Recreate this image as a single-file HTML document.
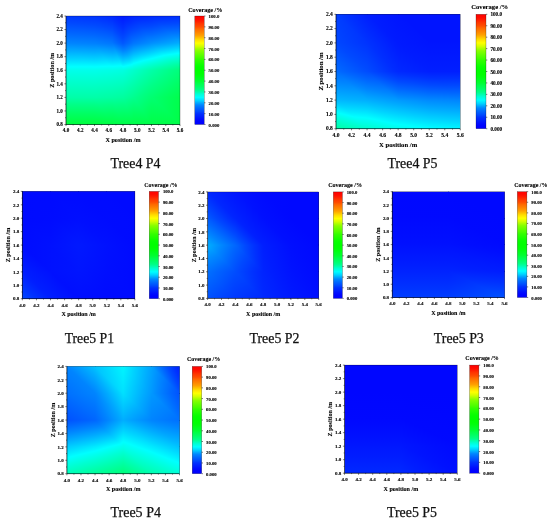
<!DOCTYPE html>
<html><head><meta charset="utf-8"><title>Coverage maps</title>
<style>
html,body{margin:0;padding:0;background:#fff}
svg{display:block}
text{font-family:"Liberation Serif","DejaVu Serif",serif;fill:#000}
.t text{font-weight:bold;stroke:#000;stroke-width:0.12px}
.u text{font-weight:bold;stroke:#000;stroke-width:0.12px}
.l{font-weight:bold;stroke:#000;stroke-width:0.1px}
.c{font-size:14.1px;fill:#111;stroke:#111;stroke-width:0.25px}
</style></head><body>
<svg width="550" height="522" viewBox="0 0 550 522">
<defs>
<clipPath id="ka"><rect x="66" y="16" width="114" height="108.5"/></clipPath>
<linearGradient id="a0" gradientUnits="userSpaceOnUse" x1="66.27" y1="12.6" x2="63.98" y2="41.94"><stop offset="0" stop-color="#0030ff"/><stop offset="0.01" stop-color="#0031ff"/><stop offset="0.349" stop-color="#0049ff"/><stop offset="0.687" stop-color="#0066ff"/><stop offset="1" stop-color="#0084ff"/></linearGradient>
<linearGradient id="a1" gradientUnits="userSpaceOnUse" x1="66.07" y1="14.77" x2="64.47" y2="44.27"><stop offset="0" stop-color="#0035ff"/><stop offset="0.28" stop-color="#0049ff"/><stop offset="0.627" stop-color="#0066ff"/><stop offset="0.974" stop-color="#0086ff"/><stop offset="1" stop-color="#0089ff"/></linearGradient>
<linearGradient id="a2" gradientUnits="userSpaceOnUse" x1="95.83" y1="10.72" x2="88.87" y2="38.35"><stop offset="0" stop-color="#0026ff"/><stop offset="0.162" stop-color="#0031ff"/><stop offset="0.483" stop-color="#0049ff"/><stop offset="0.803" stop-color="#0066ff"/><stop offset="1" stop-color="#0079ff"/></linearGradient>
<linearGradient id="a3" gradientUnits="userSpaceOnUse" x1="94.7" y1="14.84" x2="89.75" y2="43.5"><stop offset="0" stop-color="#0030ff"/><stop offset="0.01" stop-color="#0031ff"/><stop offset="0.349" stop-color="#0049ff"/><stop offset="0.687" stop-color="#0066ff"/><stop offset="1" stop-color="#0084ff"/></linearGradient>
<linearGradient id="a4" gradientUnits="userSpaceOnUse" x1="116.92" y1="10.07" x2="102.61" y2="28.47"><stop offset="0" stop-color="#0018ff"/><stop offset="0.114" stop-color="#001dff"/><stop offset="0.453" stop-color="#0031ff"/><stop offset="0.793" stop-color="#0049ff"/><stop offset="1" stop-color="#005aff"/></linearGradient>
<linearGradient id="a5" gradientUnits="userSpaceOnUse" x1="112.87" y1="15.37" x2="98.29" y2="31.86"><stop offset="0" stop-color="#0026ff"/><stop offset="0.162" stop-color="#0031ff"/><stop offset="0.483" stop-color="#0049ff"/><stop offset="0.803" stop-color="#0066ff"/><stop offset="1" stop-color="#0079ff"/></linearGradient>
<linearGradient id="a6" gradientUnits="userSpaceOnUse" x1="122.61" y1="15.15" x2="135.6" y2="43.28"><stop offset="0" stop-color="#0018ff"/><stop offset="0.085" stop-color="#001dff"/><stop offset="0.338" stop-color="#0031ff"/><stop offset="0.591" stop-color="#0049ff"/><stop offset="0.844" stop-color="#0066ff"/><stop offset="1" stop-color="#0079ff"/></linearGradient>
<linearGradient id="a7" gradientUnits="userSpaceOnUse" x1="122.4" y1="15.36" x2="142.15" y2="36.36"><stop offset="0" stop-color="#0018ff"/><stop offset="0.085" stop-color="#001dff"/><stop offset="0.338" stop-color="#0031ff"/><stop offset="0.591" stop-color="#0049ff"/><stop offset="0.844" stop-color="#0066ff"/><stop offset="1" stop-color="#0079ff"/></linearGradient>
<linearGradient id="a8" gradientUnits="userSpaceOnUse" x1="133.59" y1="15.11" x2="136.89" y2="45.6"><stop offset="0" stop-color="#0021ff"/><stop offset="0.185" stop-color="#0031ff"/><stop offset="0.427" stop-color="#0049ff"/><stop offset="0.669" stop-color="#0066ff"/><stop offset="0.911" stop-color="#0086ff"/><stop offset="1" stop-color="#0093ff"/></linearGradient>
<linearGradient id="a9" gradientUnits="userSpaceOnUse" x1="133.35" y1="15.08" x2="144.81" y2="46.59"><stop offset="0" stop-color="#0021ff"/><stop offset="0.185" stop-color="#0031ff"/><stop offset="0.427" stop-color="#0049ff"/><stop offset="0.669" stop-color="#0066ff"/><stop offset="0.911" stop-color="#0086ff"/><stop offset="1" stop-color="#0093ff"/></linearGradient>
<linearGradient id="a10" gradientUnits="userSpaceOnUse" x1="151.46" y1="15.23" x2="153.12" y2="45.38"><stop offset="0" stop-color="#0026ff"/><stop offset="0.108" stop-color="#0031ff"/><stop offset="0.321" stop-color="#0049ff"/><stop offset="0.534" stop-color="#0066ff"/><stop offset="0.746" stop-color="#0086ff"/><stop offset="0.959" stop-color="#00abff"/><stop offset="1" stop-color="#00b2ff"/></linearGradient>
<linearGradient id="a11" gradientUnits="userSpaceOnUse" x1="151.31" y1="15.14" x2="158.56" y2="48.66"><stop offset="0" stop-color="#0026ff"/><stop offset="0.108" stop-color="#0031ff"/><stop offset="0.321" stop-color="#0049ff"/><stop offset="0.534" stop-color="#0066ff"/><stop offset="0.746" stop-color="#0086ff"/><stop offset="0.959" stop-color="#00abff"/><stop offset="1" stop-color="#00b2ff"/></linearGradient>
<linearGradient id="a12" gradientUnits="userSpaceOnUse" x1="66.08" y1="41.12" x2="64.95" y2="69.99"><stop offset="0" stop-color="#007bff"/><stop offset="0.081" stop-color="#0086ff"/><stop offset="0.338" stop-color="#00abff"/><stop offset="0.596" stop-color="#00d3ff"/><stop offset="0.853" stop-color="#00ffff"/><stop offset="1" stop-color="#00ffe5"/></linearGradient>
<linearGradient id="a13" gradientUnits="userSpaceOnUse" x1="66" y1="42.19" x2="66" y2="71.18"><stop offset="0" stop-color="#0081ff"/><stop offset="0.044" stop-color="#0086ff"/><stop offset="0.312" stop-color="#00abff"/><stop offset="0.579" stop-color="#00d3ff"/><stop offset="0.847" stop-color="#00ffff"/><stop offset="1" stop-color="#00ffe5"/></linearGradient>
<linearGradient id="a14" gradientUnits="userSpaceOnUse" x1="94.82" y1="40.31" x2="91.56" y2="68.66"><stop offset="0" stop-color="#0071ff"/><stop offset="0.145" stop-color="#0086ff"/><stop offset="0.377" stop-color="#00abff"/><stop offset="0.608" stop-color="#00d3ff"/><stop offset="0.84" stop-color="#00ffff"/><stop offset="1" stop-color="#00ffe0"/></linearGradient>
<linearGradient id="a15" gradientUnits="userSpaceOnUse" x1="94.46" y1="42.23" x2="95.89" y2="71.94"><stop offset="0" stop-color="#007bff"/><stop offset="0.079" stop-color="#0086ff"/><stop offset="0.329" stop-color="#00abff"/><stop offset="0.578" stop-color="#00d3ff"/><stop offset="0.828" stop-color="#00ffff"/><stop offset="1" stop-color="#00ffe0"/></linearGradient>
<linearGradient id="a16" gradientUnits="userSpaceOnUse" x1="114.63" y1="38.39" x2="103.41" y2="61.26"><stop offset="0" stop-color="#0053ff"/><stop offset="0.116" stop-color="#0066ff"/><stop offset="0.3" stop-color="#0086ff"/><stop offset="0.484" stop-color="#00abff"/><stop offset="0.668" stop-color="#00d3ff"/><stop offset="0.852" stop-color="#00ffff"/><stop offset="1" stop-color="#00ffdb"/></linearGradient>
<linearGradient id="a17" gradientUnits="userSpaceOnUse" x1="112.25" y1="42.33" x2="114.39" y2="71.68"><stop offset="0" stop-color="#0071ff"/><stop offset="0.141" stop-color="#0086ff"/><stop offset="0.367" stop-color="#00abff"/><stop offset="0.592" stop-color="#00d3ff"/><stop offset="0.818" stop-color="#00ffff"/><stop offset="1" stop-color="#00ffdb"/></linearGradient>
<linearGradient id="a18" gradientUnits="userSpaceOnUse" x1="122.71" y1="42.59" x2="137.15" y2="69.06"><stop offset="0" stop-color="#0053ff"/><stop offset="0.106" stop-color="#0066ff"/><stop offset="0.275" stop-color="#0086ff"/><stop offset="0.444" stop-color="#00abff"/><stop offset="0.613" stop-color="#00d3ff"/><stop offset="0.783" stop-color="#00ffff"/><stop offset="0.952" stop-color="#00ffd3"/><stop offset="1" stop-color="#00ffc7"/></linearGradient>
<linearGradient id="a19" gradientUnits="userSpaceOnUse" x1="122.86" y1="42.53" x2="129.73" y2="71.81"><stop offset="0" stop-color="#0053ff"/><stop offset="0.106" stop-color="#0066ff"/><stop offset="0.275" stop-color="#0086ff"/><stop offset="0.444" stop-color="#00abff"/><stop offset="0.613" stop-color="#00d3ff"/><stop offset="0.783" stop-color="#00ffff"/><stop offset="0.952" stop-color="#00ffd3"/><stop offset="1" stop-color="#00ffc7"/></linearGradient>
<linearGradient id="a20" gradientUnits="userSpaceOnUse" x1="133.54" y1="42.49" x2="140.88" y2="73.45"><stop offset="0" stop-color="#0071ff"/><stop offset="0.107" stop-color="#0086ff"/><stop offset="0.28" stop-color="#00abff"/><stop offset="0.452" stop-color="#00d3ff"/><stop offset="0.624" stop-color="#00ffff"/><stop offset="0.797" stop-color="#00ffd3"/><stop offset="0.969" stop-color="#00ffab"/><stop offset="1" stop-color="#00ffa4"/></linearGradient>
<linearGradient id="a21" gradientUnits="userSpaceOnUse" x1="133.5" y1="42.48" x2="142.57" y2="73.55"><stop offset="0" stop-color="#0071ff"/><stop offset="0.107" stop-color="#0086ff"/><stop offset="0.28" stop-color="#00abff"/><stop offset="0.452" stop-color="#00d3ff"/><stop offset="0.624" stop-color="#00ffff"/><stop offset="0.797" stop-color="#00ffd3"/><stop offset="0.969" stop-color="#00ffab"/><stop offset="1" stop-color="#00ffa4"/></linearGradient>
<linearGradient id="a22" gradientUnits="userSpaceOnUse" x1="151.41" y1="42.52" x2="156.16" y2="74.42"><stop offset="0" stop-color="#008bff"/><stop offset="0.138" stop-color="#00abff"/><stop offset="0.295" stop-color="#00d3ff"/><stop offset="0.453" stop-color="#00ffff"/><stop offset="0.611" stop-color="#00ffd3"/><stop offset="0.768" stop-color="#00ffab"/><stop offset="0.926" stop-color="#00ff86"/><stop offset="1" stop-color="#00ff76"/></linearGradient>
<linearGradient id="a23" gradientUnits="userSpaceOnUse" x1="151.34" y1="42.49" x2="159.88" y2="76.05"><stop offset="0" stop-color="#008bff"/><stop offset="0.138" stop-color="#00abff"/><stop offset="0.295" stop-color="#00d3ff"/><stop offset="0.453" stop-color="#00ffff"/><stop offset="0.611" stop-color="#00ffd3"/><stop offset="0.768" stop-color="#00ffab"/><stop offset="0.926" stop-color="#00ff86"/><stop offset="1" stop-color="#00ff76"/></linearGradient>
<linearGradient id="a24" gradientUnits="userSpaceOnUse" x1="66" y1="68.23" x2="66" y2="99.4"><stop offset="0" stop-color="#00fff0"/><stop offset="0.361" stop-color="#00ffd3"/><stop offset="0.902" stop-color="#00ffab"/><stop offset="1" stop-color="#00ffa4"/></linearGradient>
<linearGradient id="a25" gradientUnits="userSpaceOnUse" x1="66" y1="68.23" x2="66" y2="99.4"><stop offset="0" stop-color="#00fff0"/><stop offset="0.361" stop-color="#00ffd3"/><stop offset="0.902" stop-color="#00ffab"/><stop offset="1" stop-color="#00ffa4"/></linearGradient>
<linearGradient id="a26" gradientUnits="userSpaceOnUse" x1="94.29" y1="68.27" x2="97.83" y2="100.95"><stop offset="0" stop-color="#00fff0"/><stop offset="0.336" stop-color="#00ffd3"/><stop offset="0.841" stop-color="#00ffab"/><stop offset="1" stop-color="#00ff9f"/></linearGradient>
<linearGradient id="a27" gradientUnits="userSpaceOnUse" x1="94.25" y1="68.26" x2="98.44" y2="101.17"><stop offset="0" stop-color="#00fff0"/><stop offset="0.336" stop-color="#00ffd3"/><stop offset="0.841" stop-color="#00ffab"/><stop offset="1" stop-color="#00ff9f"/></linearGradient>
<linearGradient id="a28" gradientUnits="userSpaceOnUse" x1="111.97" y1="68.34" x2="117.73" y2="100.3"><stop offset="0" stop-color="#00ffeb"/><stop offset="0.275" stop-color="#00ffd3"/><stop offset="0.774" stop-color="#00ffab"/><stop offset="1" stop-color="#00ff9a"/></linearGradient>
<linearGradient id="a29" gradientUnits="userSpaceOnUse" x1="111.91" y1="68.34" x2="118.7" y2="100.29"><stop offset="0" stop-color="#00ffeb"/><stop offset="0.275" stop-color="#00ffd3"/><stop offset="0.774" stop-color="#00ffab"/><stop offset="1" stop-color="#00ff9a"/></linearGradient>
<linearGradient id="a30" gradientUnits="userSpaceOnUse" x1="122.01" y1="68.96" x2="141.06" y2="93.77"><stop offset="0" stop-color="#00ffe6"/><stop offset="0.188" stop-color="#00ffd3"/><stop offset="0.621" stop-color="#00ffab"/><stop offset="1" stop-color="#00ff8b"/></linearGradient>
<linearGradient id="a31" gradientUnits="userSpaceOnUse" x1="122.1" y1="68.86" x2="139.47" y2="95.6"><stop offset="0" stop-color="#00ffe6"/><stop offset="0.188" stop-color="#00ffd3"/><stop offset="0.621" stop-color="#00ffab"/><stop offset="1" stop-color="#00ff8b"/></linearGradient>
<linearGradient id="a32" gradientUnits="userSpaceOnUse" x1="132.68" y1="69.07" x2="155.57" y2="95.94"><stop offset="0" stop-color="#00ffd1"/><stop offset="0.349" stop-color="#00ffab"/><stop offset="0.714" stop-color="#00ff86"/><stop offset="1" stop-color="#00ff6c"/></linearGradient>
<linearGradient id="a33" gradientUnits="userSpaceOnUse" x1="132.67" y1="69.08" x2="155.82" y2="95.66"><stop offset="0" stop-color="#00ffd1"/><stop offset="0.349" stop-color="#00ffab"/><stop offset="0.714" stop-color="#00ff86"/><stop offset="1" stop-color="#00ff6c"/></linearGradient>
<linearGradient id="a34" gradientUnits="userSpaceOnUse" x1="150.46" y1="68.95" x2="176.92" y2="101.97"><stop offset="0" stop-color="#00ffad"/><stop offset="0.019" stop-color="#00ffab"/><stop offset="0.346" stop-color="#00ff86"/><stop offset="0.674" stop-color="#00ff66"/><stop offset="1" stop-color="#00ff49"/></linearGradient>
<linearGradient id="a35" gradientUnits="userSpaceOnUse" x1="150.54" y1="68.91" x2="175.1" y2="102.94"><stop offset="0" stop-color="#00ffad"/><stop offset="0.019" stop-color="#00ffab"/><stop offset="0.346" stop-color="#00ff86"/><stop offset="0.674" stop-color="#00ff66"/><stop offset="1" stop-color="#00ff49"/></linearGradient>
<linearGradient id="a36" gradientUnits="userSpaceOnUse" x1="66" y1="96.42" x2="66" y2="125.45"><stop offset="0" stop-color="#00ffad"/><stop offset="0.016" stop-color="#00ffab"/><stop offset="0.29" stop-color="#00ff86"/><stop offset="0.564" stop-color="#00ff66"/><stop offset="0.837" stop-color="#00ff49"/><stop offset="1" stop-color="#00ff3a"/></linearGradient>
<linearGradient id="a37" gradientUnits="userSpaceOnUse" x1="66" y1="96.42" x2="66" y2="125.45"><stop offset="0" stop-color="#00ffad"/><stop offset="0.016" stop-color="#00ffab"/><stop offset="0.29" stop-color="#00ff86"/><stop offset="0.564" stop-color="#00ff66"/><stop offset="0.837" stop-color="#00ff49"/><stop offset="1" stop-color="#00ff3a"/></linearGradient>
<linearGradient id="a38" gradientUnits="userSpaceOnUse" x1="94.43" y1="96.32" x2="96.45" y2="126.62"><stop offset="0" stop-color="#00ffad"/><stop offset="0.017" stop-color="#00ffab"/><stop offset="0.307" stop-color="#00ff86"/><stop offset="0.597" stop-color="#00ff66"/><stop offset="0.887" stop-color="#00ff49"/><stop offset="1" stop-color="#00ff3f"/></linearGradient>
<linearGradient id="a39" gradientUnits="userSpaceOnUse" x1="94.59" y1="96.43" x2="91.94" y2="125.22"><stop offset="0" stop-color="#00ffad"/><stop offset="0.016" stop-color="#00ffab"/><stop offset="0.29" stop-color="#00ff86"/><stop offset="0.564" stop-color="#00ff66"/><stop offset="0.837" stop-color="#00ff49"/><stop offset="1" stop-color="#00ff3a"/></linearGradient>
<linearGradient id="a40" gradientUnits="userSpaceOnUse" x1="112.16" y1="96.2" x2="116.01" y2="126.57"><stop offset="0" stop-color="#00ffa8"/><stop offset="0.297" stop-color="#00ff86"/><stop offset="0.618" stop-color="#00ff66"/><stop offset="0.939" stop-color="#00ff49"/><stop offset="1" stop-color="#00ff44"/></linearGradient>
<linearGradient id="a41" gradientUnits="userSpaceOnUse" x1="112.48" y1="96.34" x2="107.8" y2="124.82"><stop offset="0" stop-color="#00ffa8"/><stop offset="0.279" stop-color="#00ff86"/><stop offset="0.581" stop-color="#00ff66"/><stop offset="0.883" stop-color="#00ff49"/><stop offset="1" stop-color="#00ff3f"/></linearGradient>
<linearGradient id="a42" gradientUnits="userSpaceOnUse" x1="122.46" y1="96.22" x2="135.74" y2="124.96"><stop offset="0" stop-color="#00ffa3"/><stop offset="0.265" stop-color="#00ff86"/><stop offset="0.6" stop-color="#00ff66"/><stop offset="0.936" stop-color="#00ff49"/><stop offset="1" stop-color="#00ff44"/></linearGradient>
<linearGradient id="a43" gradientUnits="userSpaceOnUse" x1="123" y1="96.19" x2="123" y2="125.69"><stop offset="0" stop-color="#00ffa3"/><stop offset="0.265" stop-color="#00ff86"/><stop offset="0.6" stop-color="#00ff66"/><stop offset="0.936" stop-color="#00ff49"/><stop offset="1" stop-color="#00ff44"/></linearGradient>
<linearGradient id="a44" gradientUnits="userSpaceOnUse" x1="132.53" y1="96.2" x2="157.16" y2="121.25"><stop offset="0" stop-color="#00ff93"/><stop offset="0.143" stop-color="#00ff86"/><stop offset="0.534" stop-color="#00ff66"/><stop offset="0.926" stop-color="#00ff49"/><stop offset="1" stop-color="#00ff44"/></linearGradient>
<linearGradient id="a45" gradientUnits="userSpaceOnUse" x1="133.69" y1="95.97" x2="133.69" y2="125.91"><stop offset="0" stop-color="#00ff93"/><stop offset="0.143" stop-color="#00ff86"/><stop offset="0.534" stop-color="#00ff66"/><stop offset="0.926" stop-color="#00ff49"/><stop offset="1" stop-color="#00ff44"/></linearGradient>
<linearGradient id="a46" gradientUnits="userSpaceOnUse" x1="148.76" y1="96.92" x2="186.37" y2="103.19"><stop offset="0" stop-color="#00ff74"/><stop offset="0.278" stop-color="#00ff66"/><stop offset="0.885" stop-color="#00ff49"/><stop offset="1" stop-color="#00ff44"/></linearGradient>
<linearGradient id="a47" gradientUnits="userSpaceOnUse" x1="151.5" y1="95.06" x2="151.5" y2="126.81"><stop offset="0" stop-color="#00ff74"/><stop offset="0.278" stop-color="#00ff66"/><stop offset="0.885" stop-color="#00ff49"/><stop offset="1" stop-color="#00ff44"/></linearGradient>
<clipPath id="kb"><rect x="336" y="14.3" width="124.3" height="114.4"/></clipPath>
<linearGradient id="b0" gradientUnits="userSpaceOnUse" x1="357.35" y1="-1.91" x2="334.36" y2="15.54"><stop offset="0" stop-color="#001cff"/><stop offset="0.024" stop-color="#001dff"/><stop offset="0.617" stop-color="#0031ff"/><stop offset="1" stop-color="#0040ff"/></linearGradient>
<linearGradient id="b1" gradientUnits="userSpaceOnUse" x1="352.14" y1="5.86" x2="320.77" y2="22.27"><stop offset="0" stop-color="#0030ff"/><stop offset="0.028" stop-color="#0031ff"/><stop offset="0.954" stop-color="#0049ff"/><stop offset="1" stop-color="#004bff"/></linearGradient>
<linearGradient id="b2" gradientUnits="userSpaceOnUse" x1="395.12" y1="-1.62" x2="362.53" y2="16.88"><stop offset="0" stop-color="#0013ff"/><stop offset="0.769" stop-color="#001dff"/><stop offset="1" stop-color="#0021ff"/></linearGradient>
<linearGradient id="b3" gradientUnits="userSpaceOnUse" x1="372.88" y1="9.42" x2="351.32" y2="27.54"><stop offset="0" stop-color="#0018ff"/><stop offset="0.218" stop-color="#001dff"/><stop offset="0.865" stop-color="#0031ff"/><stop offset="1" stop-color="#0036ff"/></linearGradient>
<linearGradient id="b5" gradientUnits="userSpaceOnUse" x1="403.42" y1="8.57" x2="378.63" y2="35.51"><stop offset="0" stop-color="#0013ff"/><stop offset="1" stop-color="#001cff"/></linearGradient>
<linearGradient id="b8" gradientUnits="userSpaceOnUse" x1="348.76" y1="25.86" x2="331.85" y2="48.45"><stop offset="0" stop-color="#0030ff"/><stop offset="0.024" stop-color="#0031ff"/><stop offset="0.809" stop-color="#0049ff"/><stop offset="1" stop-color="#0050ff"/></linearGradient>
<linearGradient id="b9" gradientUnits="userSpaceOnUse" x1="337.34" y1="41.18" x2="320.8" y2="62.43"><stop offset="0" stop-color="#0044ff"/><stop offset="0.128" stop-color="#0049ff"/><stop offset="0.801" stop-color="#0066ff"/><stop offset="1" stop-color="#006fff"/></linearGradient>
<linearGradient id="b10" gradientUnits="userSpaceOnUse" x1="390.06" y1="27.04" x2="365.14" y2="44.23"><stop offset="0" stop-color="#0018ff"/><stop offset="0.218" stop-color="#001dff"/><stop offset="0.865" stop-color="#0031ff"/><stop offset="1" stop-color="#0036ff"/></linearGradient>
<linearGradient id="b11" gradientUnits="userSpaceOnUse" x1="374.98" y1="37.02" x2="351.79" y2="54.26"><stop offset="0" stop-color="#0026ff"/><stop offset="0.29" stop-color="#0031ff"/><stop offset="0.861" stop-color="#0049ff"/><stop offset="1" stop-color="#0050ff"/></linearGradient>
<linearGradient id="b12" gradientUnits="userSpaceOnUse" x1="406.14" y1="26.28" x2="390.66" y2="58.48"><stop offset="0" stop-color="#0013ff"/><stop offset="0.769" stop-color="#001dff"/><stop offset="1" stop-color="#0021ff"/></linearGradient>
<linearGradient id="b13" gradientUnits="userSpaceOnUse" x1="399.96" y1="39.84" x2="383.81" y2="67.15"><stop offset="0" stop-color="#0018ff"/><stop offset="0.315" stop-color="#001dff"/><stop offset="1" stop-color="#002bff"/></linearGradient>
<linearGradient id="b14" gradientUnits="userSpaceOnUse" x1="429.23" y1="37.37" x2="429.23" y2="77.03"><stop offset="0" stop-color="#0013ff"/><stop offset="0.769" stop-color="#001dff"/><stop offset="1" stop-color="#0021ff"/></linearGradient>
<linearGradient id="b15" gradientUnits="userSpaceOnUse" x1="429.23" y1="37.37" x2="429.23" y2="77.03"><stop offset="0" stop-color="#0013ff"/><stop offset="0.769" stop-color="#001dff"/><stop offset="1" stop-color="#0021ff"/></linearGradient>
<linearGradient id="b16" gradientUnits="userSpaceOnUse" x1="339.37" y1="61.23" x2="330.2" y2="89.14"><stop offset="0" stop-color="#0049ff"/><stop offset="0.313" stop-color="#0066ff"/><stop offset="0.626" stop-color="#0086ff"/><stop offset="0.94" stop-color="#00abff"/><stop offset="1" stop-color="#00b2ff"/></linearGradient>
<linearGradient id="b17" gradientUnits="userSpaceOnUse" x1="336.17" y1="69.93" x2="332.68" y2="101.32"><stop offset="0" stop-color="#0067ff"/><stop offset="0.394" stop-color="#0086ff"/><stop offset="0.811" stop-color="#00abff"/><stop offset="1" stop-color="#00bcff"/></linearGradient>
<linearGradient id="b18" gradientUnits="userSpaceOnUse" x1="370.83" y1="60.93" x2="361.26" y2="87.89"><stop offset="0" stop-color="#0026ff"/><stop offset="0.122" stop-color="#0031ff"/><stop offset="0.363" stop-color="#0049ff"/><stop offset="0.603" stop-color="#0066ff"/><stop offset="0.844" stop-color="#0086ff"/><stop offset="1" stop-color="#009dff"/></linearGradient>
<linearGradient id="b19" gradientUnits="userSpaceOnUse" x1="367.27" y1="70.37" x2="362.18" y2="100.44"><stop offset="0" stop-color="#0049ff"/><stop offset="0.313" stop-color="#0066ff"/><stop offset="0.626" stop-color="#0086ff"/><stop offset="0.94" stop-color="#00abff"/><stop offset="1" stop-color="#00b2ff"/></linearGradient>
<linearGradient id="b20" gradientUnits="userSpaceOnUse" x1="398.71" y1="66.92" x2="395.06" y2="96.78"><stop offset="0" stop-color="#001cff"/><stop offset="0.01" stop-color="#001dff"/><stop offset="0.244" stop-color="#0031ff"/><stop offset="0.479" stop-color="#0049ff"/><stop offset="0.713" stop-color="#0066ff"/><stop offset="0.948" stop-color="#0086ff"/><stop offset="1" stop-color="#008eff"/></linearGradient>
<linearGradient id="b21" gradientUnits="userSpaceOnUse" x1="398.24" y1="70.63" x2="395.21" y2="100.68"><stop offset="0" stop-color="#0026ff"/><stop offset="0.122" stop-color="#0031ff"/><stop offset="0.363" stop-color="#0049ff"/><stop offset="0.603" stop-color="#0066ff"/><stop offset="0.844" stop-color="#0086ff"/><stop offset="1" stop-color="#009dff"/></linearGradient>
<linearGradient id="b22" gradientUnits="userSpaceOnUse" x1="429.23" y1="70.61" x2="429.23" y2="100.99"><stop offset="0" stop-color="#001cff"/><stop offset="0.01" stop-color="#001dff"/><stop offset="0.253" stop-color="#0031ff"/><stop offset="0.496" stop-color="#0049ff"/><stop offset="0.739" stop-color="#0066ff"/><stop offset="0.982" stop-color="#0086ff"/><stop offset="1" stop-color="#0089ff"/></linearGradient>
<linearGradient id="b23" gradientUnits="userSpaceOnUse" x1="429.25" y1="70.65" x2="428.23" y2="100.92"><stop offset="0" stop-color="#001cff"/><stop offset="0.01" stop-color="#001dff"/><stop offset="0.244" stop-color="#0031ff"/><stop offset="0.479" stop-color="#0049ff"/><stop offset="0.713" stop-color="#0066ff"/><stop offset="0.948" stop-color="#0086ff"/><stop offset="1" stop-color="#008eff"/></linearGradient>
<linearGradient id="b24" gradientUnits="userSpaceOnUse" x1="336.27" y1="96.61" x2="333.9" y2="127.24"><stop offset="0" stop-color="#00a9ff"/><stop offset="0.015" stop-color="#00abff"/><stop offset="0.314" stop-color="#00d3ff"/><stop offset="0.614" stop-color="#00ffff"/><stop offset="0.914" stop-color="#00ffd3"/><stop offset="1" stop-color="#00ffc7"/></linearGradient>
<linearGradient id="b25" gradientUnits="userSpaceOnUse" x1="336.21" y1="99.26" x2="329.18" y2="127.91"><stop offset="0" stop-color="#00b3ff"/><stop offset="0.192" stop-color="#00d3ff"/><stop offset="0.436" stop-color="#00ffff"/><stop offset="0.679" stop-color="#00ffd3"/><stop offset="0.923" stop-color="#00ffab"/><stop offset="1" stop-color="#00ff9f"/></linearGradient>
<linearGradient id="b26" gradientUnits="userSpaceOnUse" x1="368.15" y1="93.81" x2="363.02" y2="123.88"><stop offset="0" stop-color="#0095ff"/><stop offset="0.187" stop-color="#00abff"/><stop offset="0.503" stop-color="#00d3ff"/><stop offset="0.819" stop-color="#00ffff"/><stop offset="1" stop-color="#00ffe5"/></linearGradient>
<linearGradient id="b27" gradientUnits="userSpaceOnUse" x1="367.3" y1="99.04" x2="361.04" y2="128.53"><stop offset="0" stop-color="#00a9ff"/><stop offset="0.015" stop-color="#00abff"/><stop offset="0.314" stop-color="#00d3ff"/><stop offset="0.614" stop-color="#00ffff"/><stop offset="0.914" stop-color="#00ffd3"/><stop offset="1" stop-color="#00ffc7"/></linearGradient>
<linearGradient id="b28" gradientUnits="userSpaceOnUse" x1="398.87" y1="94.79" x2="394.74" y2="125.2"><stop offset="0" stop-color="#0086ff"/><stop offset="0.006" stop-color="#0086ff"/><stop offset="0.325" stop-color="#00abff"/><stop offset="0.643" stop-color="#00d3ff"/><stop offset="0.962" stop-color="#00ffff"/><stop offset="1" stop-color="#00fffa"/></linearGradient>
<linearGradient id="b29" gradientUnits="userSpaceOnUse" x1="398.31" y1="98.95" x2="393.99" y2="129.28"><stop offset="0" stop-color="#0095ff"/><stop offset="0.187" stop-color="#00abff"/><stop offset="0.503" stop-color="#00d3ff"/><stop offset="0.819" stop-color="#00ffff"/><stop offset="1" stop-color="#00ffe5"/></linearGradient>
<linearGradient id="b30" gradientUnits="userSpaceOnUse" x1="429.35" y1="97.4" x2="427.87" y2="128.36"><stop offset="0" stop-color="#0081ff"/><stop offset="0.054" stop-color="#0086ff"/><stop offset="0.381" stop-color="#00abff"/><stop offset="0.707" stop-color="#00d3ff"/><stop offset="1" stop-color="#00faff"/></linearGradient>
<linearGradient id="b31" gradientUnits="userSpaceOnUse" x1="429.31" y1="98.92" x2="427.12" y2="129.73"><stop offset="0" stop-color="#0086ff"/><stop offset="0.006" stop-color="#0086ff"/><stop offset="0.325" stop-color="#00abff"/><stop offset="0.643" stop-color="#00d3ff"/><stop offset="0.962" stop-color="#00ffff"/><stop offset="1" stop-color="#00fffa"/></linearGradient>
<clipPath id="kc"><rect x="22.4" y="191.4" width="112.5" height="107.3"/></clipPath>
<linearGradient id="c0" gradientUnits="userSpaceOnUse" x1="22.4" y1="156.01" x2="22.4" y2="253.62"><stop offset="0" stop-color="#0009ff"/><stop offset="1" stop-color="#000dff"/></linearGradient>
<linearGradient id="c1" gradientUnits="userSpaceOnUse" x1="-14.71" y1="191.4" x2="87.64" y2="191.4"><stop offset="0" stop-color="#0009ff"/><stop offset="1" stop-color="#000dff"/></linearGradient>
<linearGradient id="c2" gradientUnits="userSpaceOnUse" x1="50.52" y1="182.04" x2="50.52" y2="227.59"><stop offset="0" stop-color="#0009ff"/><stop offset="0.767" stop-color="#000eff"/><stop offset="1" stop-color="#0010ff"/></linearGradient>
<linearGradient id="c3" gradientUnits="userSpaceOnUse" x1="38.84" y1="186.99" x2="95.69" y2="208.43"><stop offset="0" stop-color="#0009ff"/><stop offset="0.767" stop-color="#000eff"/><stop offset="1" stop-color="#0010ff"/></linearGradient>
<linearGradient id="c4" gradientUnits="userSpaceOnUse" x1="78.65" y1="156.01" x2="78.65" y2="253.62"><stop offset="0" stop-color="#0009ff"/><stop offset="1" stop-color="#000dff"/></linearGradient>
<linearGradient id="c5" gradientUnits="userSpaceOnUse" x1="83.05" y1="185.12" x2="61.64" y2="215.65"><stop offset="0" stop-color="#0009ff"/><stop offset="0.767" stop-color="#000eff"/><stop offset="1" stop-color="#0010ff"/></linearGradient>
<linearGradient id="c7" gradientUnits="userSpaceOnUse" x1="124.45" y1="172.87" x2="75.7" y2="223.98"><stop offset="0" stop-color="#0009ff"/><stop offset="1" stop-color="#000dff"/></linearGradient>
<linearGradient id="c8" gradientUnits="userSpaceOnUse" x1="20.8" y1="210.68" x2="30.68" y2="257.16"><stop offset="0" stop-color="#0009ff"/><stop offset="0.606" stop-color="#000eff"/><stop offset="1" stop-color="#0012ff"/></linearGradient>
<linearGradient id="c9" gradientUnits="userSpaceOnUse" x1="14.55" y1="213.65" x2="62.92" y2="241.84"><stop offset="0" stop-color="#0009ff"/><stop offset="0.606" stop-color="#000eff"/><stop offset="1" stop-color="#0012ff"/></linearGradient>
<linearGradient id="c10" gradientUnits="userSpaceOnUse" x1="49.12" y1="214.13" x2="63.11" y2="254.95"><stop offset="0" stop-color="#000aff"/><stop offset="0.298" stop-color="#000eff"/><stop offset="1" stop-color="#001aff"/></linearGradient>
<linearGradient id="c11" gradientUnits="userSpaceOnUse" x1="46.7" y1="215.24" x2="84.85" y2="244.99"><stop offset="0" stop-color="#000aff"/><stop offset="0.298" stop-color="#000eff"/><stop offset="1" stop-color="#001aff"/></linearGradient>
<linearGradient id="c12" gradientUnits="userSpaceOnUse" x1="89.38" y1="200.06" x2="70.73" y2="231.64"><stop offset="0" stop-color="#000aff"/><stop offset="0.55" stop-color="#000eff"/><stop offset="1" stop-color="#0012ff"/></linearGradient>
<linearGradient id="c13" gradientUnits="userSpaceOnUse" x1="80.84" y1="215.28" x2="63.62" y2="238.45"><stop offset="0" stop-color="#000dff"/><stop offset="0.11" stop-color="#000eff"/><stop offset="1" stop-color="#001aff"/></linearGradient>
<linearGradient id="c14" gradientUnits="userSpaceOnUse" x1="172.01" y1="218.22" x2="69.66" y2="218.22"><stop offset="0" stop-color="#0009ff"/><stop offset="1" stop-color="#000dff"/></linearGradient>
<linearGradient id="c15" gradientUnits="userSpaceOnUse" x1="113.63" y1="212.35" x2="89.62" y2="232.93"><stop offset="0" stop-color="#0009ff"/><stop offset="0.606" stop-color="#000eff"/><stop offset="1" stop-color="#0012ff"/></linearGradient>
<linearGradient id="c16" gradientUnits="userSpaceOnUse" x1="11.88" y1="245.05" x2="61.05" y2="245.05"><stop offset="0" stop-color="#000bff"/><stop offset="0.48" stop-color="#000eff"/><stop offset="1" stop-color="#0012ff"/></linearGradient>
<linearGradient id="c17" gradientUnits="userSpaceOnUse" x1="23.63" y1="243.3" x2="8.53" y2="264.72"><stop offset="0" stop-color="#000bff"/><stop offset="0.183" stop-color="#000eff"/><stop offset="0.864" stop-color="#001dff"/><stop offset="1" stop-color="#0021ff"/></linearGradient>
<linearGradient id="c18" gradientUnits="userSpaceOnUse" x1="45.61" y1="247.51" x2="77.93" y2="231.33"><stop offset="0" stop-color="#000fff"/><stop offset="1" stop-color="#001aff"/></linearGradient>
<linearGradient id="c19" gradientUnits="userSpaceOnUse" x1="38.75" y1="245.05" x2="90.43" y2="245.05"><stop offset="0" stop-color="#000fff"/><stop offset="1" stop-color="#0016ff"/></linearGradient>
<linearGradient id="c20" gradientUnits="userSpaceOnUse" x1="117.47" y1="256.57" x2="73" y2="243.37"><stop offset="0" stop-color="#000dff"/><stop offset="0.11" stop-color="#000eff"/><stop offset="1" stop-color="#001aff"/></linearGradient>
<linearGradient id="c21" gradientUnits="userSpaceOnUse" x1="116.47" y1="268.57" x2="73.14" y2="241.63"><stop offset="0" stop-color="#000dff"/><stop offset="0.11" stop-color="#000eff"/><stop offset="1" stop-color="#001aff"/></linearGradient>
<linearGradient id="c22" gradientUnits="userSpaceOnUse" x1="141.66" y1="245.05" x2="100.01" y2="245.05"><stop offset="0" stop-color="#0009ff"/><stop offset="0.606" stop-color="#000eff"/><stop offset="1" stop-color="#0012ff"/></linearGradient>
<linearGradient id="c23" gradientUnits="userSpaceOnUse" x1="148.14" y1="264.64" x2="98.76" y2="241.25"><stop offset="0" stop-color="#0009ff"/><stop offset="0.606" stop-color="#000eff"/><stop offset="1" stop-color="#0012ff"/></linearGradient>
<linearGradient id="c24" gradientUnits="userSpaceOnUse" x1="37.57" y1="255.97" x2="20.63" y2="273.73"><stop offset="0" stop-color="#000fff"/><stop offset="0.826" stop-color="#001dff"/><stop offset="1" stop-color="#0021ff"/></linearGradient>
<linearGradient id="c25" gradientUnits="userSpaceOnUse" x1="23.27" y1="270.96" x2="8.13" y2="286.83"><stop offset="0" stop-color="#001cff"/><stop offset="0.02" stop-color="#001dff"/><stop offset="0.498" stop-color="#0031ff"/><stop offset="0.976" stop-color="#0049ff"/><stop offset="1" stop-color="#004bff"/></linearGradient>
<linearGradient id="c26" gradientUnits="userSpaceOnUse" x1="43.05" y1="283.96" x2="61.57" y2="254.02"><stop offset="0" stop-color="#000dff"/><stop offset="0.152" stop-color="#000eff"/><stop offset="1" stop-color="#0016ff"/></linearGradient>
<linearGradient id="c27" gradientUnits="userSpaceOnUse" x1="54.57" y1="268.26" x2="35.43" y2="285.39"><stop offset="0" stop-color="#000dff"/><stop offset="0.08" stop-color="#000eff"/><stop offset="0.847" stop-color="#001dff"/><stop offset="1" stop-color="#0021ff"/></linearGradient>
<linearGradient id="c28" gradientUnits="userSpaceOnUse" x1="116.78" y1="294.75" x2="73.03" y2="268.51"><stop offset="0" stop-color="#000aff"/><stop offset="0.381" stop-color="#000eff"/><stop offset="1" stop-color="#0016ff"/></linearGradient>
<linearGradient id="c29" gradientUnits="userSpaceOnUse" x1="99.45" y1="309.98" x2="75.59" y2="266.26"><stop offset="0" stop-color="#000aff"/><stop offset="0.381" stop-color="#000eff"/><stop offset="1" stop-color="#0016ff"/></linearGradient>
<linearGradient id="c30" gradientUnits="userSpaceOnUse" x1="144.72" y1="271.88" x2="96.96" y2="271.88"><stop offset="0" stop-color="#0009ff"/><stop offset="0.767" stop-color="#000eff"/><stop offset="1" stop-color="#0010ff"/></linearGradient>
<linearGradient id="c31" gradientUnits="userSpaceOnUse" x1="121.88" y1="315.9" x2="102.87" y2="260.48"><stop offset="0" stop-color="#0009ff"/><stop offset="0.767" stop-color="#000eff"/><stop offset="1" stop-color="#0010ff"/></linearGradient>
<clipPath id="kd"><rect x="207.6" y="191.9" width="111.1" height="106.5"/></clipPath>
<linearGradient id="d0" gradientUnits="userSpaceOnUse" x1="226.12" y1="176.9" x2="205.86" y2="193.31"><stop offset="0" stop-color="#0013ff"/><stop offset="0.475" stop-color="#001dff"/><stop offset="1" stop-color="#002bff"/></linearGradient>
<linearGradient id="d1" gradientUnits="userSpaceOnUse" x1="210.04" y1="189.64" x2="193.55" y2="204.92"><stop offset="0" stop-color="#0021ff"/><stop offset="0.3" stop-color="#0031ff"/><stop offset="0.691" stop-color="#0049ff"/><stop offset="1" stop-color="#005fff"/></linearGradient>
<linearGradient id="d2" gradientUnits="userSpaceOnUse" x1="259.73" y1="178.24" x2="232.15" y2="193.71"><stop offset="0" stop-color="#0009ff"/><stop offset="0.436" stop-color="#000eff"/><stop offset="1" stop-color="#0016ff"/></linearGradient>
<linearGradient id="d3" gradientUnits="userSpaceOnUse" x1="242.24" y1="186.8" x2="220.93" y2="202.63"><stop offset="0" stop-color="#000eff"/><stop offset="0.017" stop-color="#000eff"/><stop offset="0.684" stop-color="#001dff"/><stop offset="1" stop-color="#0026ff"/></linearGradient>
<linearGradient id="d4" gradientUnits="userSpaceOnUse" x1="308.02" y1="191.9" x2="246.06" y2="191.9"><stop offset="0" stop-color="#0007ff"/><stop offset="1" stop-color="#000cff"/></linearGradient>
<linearGradient id="d5" gradientUnits="userSpaceOnUse" x1="272.54" y1="185.2" x2="246.98" y2="203.44"><stop offset="0" stop-color="#0007ff"/><stop offset="0.749" stop-color="#000eff"/><stop offset="1" stop-color="#0011ff"/></linearGradient>
<linearGradient id="d8" gradientUnits="userSpaceOnUse" x1="219.61" y1="204.15" x2="205.32" y2="221.25"><stop offset="0" stop-color="#0021ff"/><stop offset="0.264" stop-color="#0031ff"/><stop offset="0.61" stop-color="#0049ff"/><stop offset="0.955" stop-color="#0066ff"/><stop offset="1" stop-color="#006aff"/></linearGradient>
<linearGradient id="d9" gradientUnits="userSpaceOnUse" x1="208.25" y1="217.73" x2="193.89" y2="235.2"><stop offset="0" stop-color="#0058ff"/><stop offset="0.171" stop-color="#0066ff"/><stop offset="0.549" stop-color="#0086ff"/><stop offset="0.928" stop-color="#00abff"/><stop offset="1" stop-color="#00b2ff"/></linearGradient>
<linearGradient id="d10" gradientUnits="userSpaceOnUse" x1="253.65" y1="203.63" x2="233.79" y2="219.82"><stop offset="0" stop-color="#000eff"/><stop offset="0.017" stop-color="#000eff"/><stop offset="0.684" stop-color="#001dff"/><stop offset="1" stop-color="#0026ff"/></linearGradient>
<linearGradient id="d11" gradientUnits="userSpaceOnUse" x1="237.35" y1="216.66" x2="221.48" y2="231.66"><stop offset="0" stop-color="#001cff"/><stop offset="0.013" stop-color="#001dff"/><stop offset="0.328" stop-color="#0031ff"/><stop offset="0.643" stop-color="#0049ff"/><stop offset="0.959" stop-color="#0066ff"/><stop offset="1" stop-color="#006aff"/></linearGradient>
<linearGradient id="d12" gradientUnits="userSpaceOnUse" x1="281.29" y1="202.01" x2="260.2" y2="221.21"><stop offset="0" stop-color="#0007ff"/><stop offset="0.749" stop-color="#000eff"/><stop offset="1" stop-color="#0011ff"/></linearGradient>
<linearGradient id="d13" gradientUnits="userSpaceOnUse" x1="265.84" y1="215.93" x2="248.22" y2="232.94"><stop offset="0" stop-color="#000dff"/><stop offset="0.08" stop-color="#000eff"/><stop offset="0.847" stop-color="#001dff"/><stop offset="1" stop-color="#0021ff"/></linearGradient>
<linearGradient id="d15" gradientUnits="userSpaceOnUse" x1="293.89" y1="215.43" x2="274.66" y2="235.49"><stop offset="0" stop-color="#0007ff"/><stop offset="0.825" stop-color="#000eff"/><stop offset="1" stop-color="#0010ff"/></linearGradient>
<linearGradient id="d16" gradientUnits="userSpaceOnUse" x1="242.01" y1="260.61" x2="206.25" y2="244.55"><stop offset="0" stop-color="#0049ff"/><stop offset="0.313" stop-color="#0066ff"/><stop offset="0.626" stop-color="#0086ff"/><stop offset="0.94" stop-color="#00abff"/><stop offset="1" stop-color="#00b2ff"/></linearGradient>
<linearGradient id="d17" gradientUnits="userSpaceOnUse" x1="229.41" y1="277.62" x2="206.75" y2="243.88"><stop offset="0" stop-color="#0049ff"/><stop offset="0.313" stop-color="#0066ff"/><stop offset="0.626" stop-color="#0086ff"/><stop offset="0.94" stop-color="#00abff"/><stop offset="1" stop-color="#00b2ff"/></linearGradient>
<linearGradient id="d18" gradientUnits="userSpaceOnUse" x1="264.01" y1="242.34" x2="234.25" y2="245.26"><stop offset="0" stop-color="#001cff"/><stop offset="0.013" stop-color="#001dff"/><stop offset="0.328" stop-color="#0031ff"/><stop offset="0.643" stop-color="#0049ff"/><stop offset="0.959" stop-color="#0066ff"/><stop offset="1" stop-color="#006aff"/></linearGradient>
<linearGradient id="d19" gradientUnits="userSpaceOnUse" x1="269.59" y1="263.07" x2="233.9" y2="244.38"><stop offset="0" stop-color="#0021ff"/><stop offset="0.264" stop-color="#0031ff"/><stop offset="0.61" stop-color="#0049ff"/><stop offset="0.955" stop-color="#0066ff"/><stop offset="1" stop-color="#006aff"/></linearGradient>
<linearGradient id="d20" gradientUnits="userSpaceOnUse" x1="291.56" y1="236.73" x2="260.27" y2="246"><stop offset="0" stop-color="#000dff"/><stop offset="0.08" stop-color="#000eff"/><stop offset="0.847" stop-color="#001dff"/><stop offset="1" stop-color="#0021ff"/></linearGradient>
<linearGradient id="d21" gradientUnits="userSpaceOnUse" x1="285.08" y1="239.07" x2="253.31" y2="247.88"><stop offset="0" stop-color="#0011ff"/><stop offset="0.628" stop-color="#001dff"/><stop offset="1" stop-color="#0026ff"/></linearGradient>
<linearGradient id="d22" gradientUnits="userSpaceOnUse" x1="320.65" y1="233.93" x2="285.51" y2="247.19"><stop offset="0" stop-color="#0007ff"/><stop offset="0.825" stop-color="#000eff"/><stop offset="1" stop-color="#0010ff"/></linearGradient>
<linearGradient id="d23" gradientUnits="userSpaceOnUse" x1="307.03" y1="237.29" x2="276.26" y2="252.3"><stop offset="0" stop-color="#0009ff"/><stop offset="0.505" stop-color="#000eff"/><stop offset="1" stop-color="#0014ff"/></linearGradient>
<linearGradient id="d24" gradientUnits="userSpaceOnUse" x1="240.64" y1="294.78" x2="205.75" y2="270.49"><stop offset="0" stop-color="#0035ff"/><stop offset="0.357" stop-color="#0049ff"/><stop offset="0.798" stop-color="#0066ff"/><stop offset="1" stop-color="#0074ff"/></linearGradient>
<linearGradient id="d25" gradientUnits="userSpaceOnUse" x1="235.32" y1="301.56" x2="206.05" y2="270.11"><stop offset="0" stop-color="#0035ff"/><stop offset="0.357" stop-color="#0049ff"/><stop offset="0.798" stop-color="#0066ff"/><stop offset="1" stop-color="#0074ff"/></linearGradient>
<linearGradient id="d26" gradientUnits="userSpaceOnUse" x1="264.36" y1="267.36" x2="233.53" y2="272.06"><stop offset="0" stop-color="#0021ff"/><stop offset="0.381" stop-color="#0031ff"/><stop offset="0.879" stop-color="#0049ff"/><stop offset="1" stop-color="#0050ff"/></linearGradient>
<linearGradient id="d27" gradientUnits="userSpaceOnUse" x1="261.66" y1="303.57" x2="233.44" y2="269.43"><stop offset="0" stop-color="#0026ff"/><stop offset="0.29" stop-color="#0031ff"/><stop offset="0.861" stop-color="#0049ff"/><stop offset="1" stop-color="#0050ff"/></linearGradient>
<linearGradient id="d28" gradientUnits="userSpaceOnUse" x1="289.78" y1="261" x2="260.39" y2="272.89"><stop offset="0" stop-color="#0011ff"/><stop offset="0.628" stop-color="#001dff"/><stop offset="1" stop-color="#0026ff"/></linearGradient>
<linearGradient id="d29" gradientUnits="userSpaceOnUse" x1="284.66" y1="265.28" x2="252.36" y2="275.03"><stop offset="0" stop-color="#0017ff"/><stop offset="0.353" stop-color="#001dff"/><stop offset="1" stop-color="#002bff"/></linearGradient>
<linearGradient id="d30" gradientUnits="userSpaceOnUse" x1="316.1" y1="257.8" x2="286.98" y2="273.97"><stop offset="0" stop-color="#0009ff"/><stop offset="0.505" stop-color="#000eff"/><stop offset="1" stop-color="#0014ff"/></linearGradient>
<linearGradient id="d31" gradientUnits="userSpaceOnUse" x1="303.22" y1="264.45" x2="275.73" y2="280.83"><stop offset="0" stop-color="#000dff"/><stop offset="0.11" stop-color="#000eff"/><stop offset="1" stop-color="#001aff"/></linearGradient>
<clipPath id="ke"><rect x="392.3" y="191.7" width="112.2" height="105.8"/></clipPath>
<linearGradient id="e0" gradientUnits="userSpaceOnUse" x1="392.3" y1="159.93" x2="392.3" y2="249.92"><stop offset="0" stop-color="#0007ff"/><stop offset="1" stop-color="#000aff"/></linearGradient>
<linearGradient id="e1" gradientUnits="userSpaceOnUse" x1="392.3" y1="159.93" x2="392.3" y2="249.92"><stop offset="0" stop-color="#0007ff"/><stop offset="1" stop-color="#000aff"/></linearGradient>
<linearGradient id="e3" gradientUnits="userSpaceOnUse" x1="460.65" y1="165.71" x2="425.94" y2="239.33"><stop offset="0" stop-color="#0007ff"/><stop offset="1" stop-color="#000aff"/></linearGradient>
<linearGradient id="e4" gradientUnits="userSpaceOnUse" x1="392.3" y1="212.81" x2="392.3" y2="249.94"><stop offset="0" stop-color="#0008ff"/><stop offset="0.65" stop-color="#000eff"/><stop offset="1" stop-color="#0012ff"/></linearGradient>
<linearGradient id="e5" gradientUnits="userSpaceOnUse" x1="392.3" y1="212.81" x2="392.3" y2="249.94"><stop offset="0" stop-color="#0008ff"/><stop offset="0.65" stop-color="#000eff"/><stop offset="1" stop-color="#0012ff"/></linearGradient>
<linearGradient id="e6" gradientUnits="userSpaceOnUse" x1="470.86" y1="170.52" x2="436.15" y2="244.14"><stop offset="0" stop-color="#0007ff"/><stop offset="1" stop-color="#000aff"/></linearGradient>
<linearGradient id="e7" gradientUnits="userSpaceOnUse" x1="450.46" y1="213.78" x2="436.14" y2="244.16"><stop offset="0" stop-color="#0008ff"/><stop offset="0.65" stop-color="#000eff"/><stop offset="1" stop-color="#0012ff"/></linearGradient>
<linearGradient id="e8" gradientUnits="userSpaceOnUse" x1="392.3" y1="241.79" x2="392.3" y2="273.86"><stop offset="0" stop-color="#000fff"/><stop offset="0.693" stop-color="#001dff"/><stop offset="1" stop-color="#0025ff"/></linearGradient>
<linearGradient id="e9" gradientUnits="userSpaceOnUse" x1="392.3" y1="241.79" x2="392.3" y2="273.86"><stop offset="0" stop-color="#000fff"/><stop offset="0.693" stop-color="#001dff"/><stop offset="1" stop-color="#0025ff"/></linearGradient>
<linearGradient id="e10" gradientUnits="userSpaceOnUse" x1="451.05" y1="231.51" x2="445.02" y2="261.32"><stop offset="0" stop-color="#0008ff"/><stop offset="0.334" stop-color="#000eff"/><stop offset="0.949" stop-color="#001dff"/><stop offset="1" stop-color="#001fff"/></linearGradient>
<linearGradient id="e11" gradientUnits="userSpaceOnUse" x1="448.79" y1="241.84" x2="444.36" y2="273.29"><stop offset="0" stop-color="#000fff"/><stop offset="0.693" stop-color="#001dff"/><stop offset="1" stop-color="#0025ff"/></linearGradient>
<linearGradient id="e12" gradientUnits="userSpaceOnUse" x1="392.3" y1="268.46" x2="392.3" y2="300.09"><stop offset="0" stop-color="#0020ff"/><stop offset="0.559" stop-color="#0031ff"/><stop offset="1" stop-color="#0040ff"/></linearGradient>
<linearGradient id="e13" gradientUnits="userSpaceOnUse" x1="392.3" y1="268.46" x2="392.3" y2="300.09"><stop offset="0" stop-color="#0020ff"/><stop offset="0.559" stop-color="#0031ff"/><stop offset="1" stop-color="#0040ff"/></linearGradient>
<linearGradient id="e14" gradientUnits="userSpaceOnUse" x1="448.75" y1="265.92" x2="446.78" y2="294.94"><stop offset="0" stop-color="#001bff"/><stop offset="0.061" stop-color="#001dff"/><stop offset="0.447" stop-color="#0031ff"/><stop offset="0.834" stop-color="#0049ff"/><stop offset="1" stop-color="#0055ff"/></linearGradient>
<linearGradient id="e15" gradientUnits="userSpaceOnUse" x1="447.68" y1="268.67" x2="461.12" y2="313.19"><stop offset="0" stop-color="#0020ff"/><stop offset="0.364" stop-color="#0031ff"/><stop offset="0.809" stop-color="#0049ff"/><stop offset="1" stop-color="#0055ff"/></linearGradient>
<clipPath id="kf"><rect x="66.9" y="366.4" width="112.6" height="107.3"/></clipPath>
<linearGradient id="f0" gradientUnits="userSpaceOnUse" x1="65.91" y1="367.43" x2="81.28" y2="351.31"><stop offset="0" stop-color="#0081ff"/><stop offset="0.089" stop-color="#0086ff"/><stop offset="0.623" stop-color="#00abff"/><stop offset="1" stop-color="#00c7ff"/></linearGradient>
<linearGradient id="f1" gradientUnits="userSpaceOnUse" x1="50.89" y1="383.2" x2="69.51" y2="363.66"><stop offset="0" stop-color="#006cff"/><stop offset="0.914" stop-color="#0086ff"/><stop offset="1" stop-color="#0089ff"/></linearGradient>
<linearGradient id="f2" gradientUnits="userSpaceOnUse" x1="92.61" y1="367.39" x2="121.64" y2="355.58"><stop offset="0" stop-color="#00bdff"/><stop offset="0.374" stop-color="#00d3ff"/><stop offset="1" stop-color="#00faff"/></linearGradient>
<linearGradient id="f3" gradientUnits="userSpaceOnUse" x1="81.36" y1="376.33" x2="101.68" y2="361.59"><stop offset="0" stop-color="#0081ff"/><stop offset="0.064" stop-color="#0086ff"/><stop offset="0.448" stop-color="#00abff"/><stop offset="0.833" stop-color="#00d3ff"/><stop offset="1" stop-color="#00e6ff"/></linearGradient>
<linearGradient id="f4" gradientUnits="userSpaceOnUse" x1="156.28" y1="371.24" x2="121.52" y2="366.15"><stop offset="0" stop-color="#0095ff"/><stop offset="0.238" stop-color="#00abff"/><stop offset="0.64" stop-color="#00d3ff"/><stop offset="1" stop-color="#00faff"/></linearGradient>
<linearGradient id="f5" gradientUnits="userSpaceOnUse" x1="157.96" y1="375.83" x2="121.44" y2="365.92"><stop offset="0" stop-color="#0095ff"/><stop offset="0.238" stop-color="#00abff"/><stop offset="0.64" stop-color="#00d3ff"/><stop offset="1" stop-color="#00faff"/></linearGradient>
<linearGradient id="f6" gradientUnits="userSpaceOnUse" x1="174.53" y1="354.92" x2="150.78" y2="366.68"><stop offset="0" stop-color="#001cff"/><stop offset="0.008" stop-color="#001dff"/><stop offset="0.21" stop-color="#0031ff"/><stop offset="0.411" stop-color="#0049ff"/><stop offset="0.612" stop-color="#0066ff"/><stop offset="0.814" stop-color="#0086ff"/><stop offset="1" stop-color="#00a8ff"/></linearGradient>
<linearGradient id="f7" gradientUnits="userSpaceOnUse" x1="183.96" y1="370.64" x2="149.85" y2="366.21"><stop offset="0" stop-color="#004eff"/><stop offset="0.296" stop-color="#0066ff"/><stop offset="0.662" stop-color="#0086ff"/><stop offset="1" stop-color="#00a8ff"/></linearGradient>
<linearGradient id="f8" gradientUnits="userSpaceOnUse" x1="61.2" y1="402.38" x2="76.3" y2="378.13"><stop offset="0" stop-color="#0062ff"/><stop offset="0.092" stop-color="#0066ff"/><stop offset="0.938" stop-color="#0086ff"/><stop offset="1" stop-color="#0089ff"/></linearGradient>
<linearGradient id="f9" gradientUnits="userSpaceOnUse" x1="53.21" y1="414.29" x2="68.33" y2="391.02"><stop offset="0" stop-color="#004eff"/><stop offset="0.639" stop-color="#0066ff"/><stop offset="1" stop-color="#0074ff"/></linearGradient>
<linearGradient id="f10" gradientUnits="userSpaceOnUse" x1="93.95" y1="393.83" x2="117.71" y2="380.7"><stop offset="0" stop-color="#0081ff"/><stop offset="0.064" stop-color="#0086ff"/><stop offset="0.448" stop-color="#00abff"/><stop offset="0.833" stop-color="#00d3ff"/><stop offset="1" stop-color="#00e6ff"/></linearGradient>
<linearGradient id="f11" gradientUnits="userSpaceOnUse" x1="83.25" y1="398.89" x2="108.79" y2="386.63"><stop offset="0" stop-color="#0062ff"/><stop offset="0.048" stop-color="#0066ff"/><stop offset="0.482" stop-color="#0086ff"/><stop offset="0.917" stop-color="#00abff"/><stop offset="1" stop-color="#00b2ff"/></linearGradient>
<linearGradient id="f12" gradientUnits="userSpaceOnUse" x1="158.3" y1="405.1" x2="121.5" y2="392.65"><stop offset="0" stop-color="#0081ff"/><stop offset="0.064" stop-color="#0086ff"/><stop offset="0.448" stop-color="#00abff"/><stop offset="0.833" stop-color="#00d3ff"/><stop offset="1" stop-color="#00e6ff"/></linearGradient>
<linearGradient id="f13" gradientUnits="userSpaceOnUse" x1="149.65" y1="424.1" x2="121.92" y2="391.73"><stop offset="0" stop-color="#0081ff"/><stop offset="0.064" stop-color="#0086ff"/><stop offset="0.448" stop-color="#00abff"/><stop offset="0.833" stop-color="#00d3ff"/><stop offset="1" stop-color="#00e6ff"/></linearGradient>
<linearGradient id="f14" gradientUnits="userSpaceOnUse" x1="175.35" y1="381.56" x2="150.12" y2="393.82"><stop offset="0" stop-color="#004eff"/><stop offset="0.329" stop-color="#0066ff"/><stop offset="0.736" stop-color="#0086ff"/><stop offset="1" stop-color="#009dff"/></linearGradient>
<linearGradient id="f15" gradientUnits="userSpaceOnUse" x1="181.92" y1="423.17" x2="148.55" y2="390.49"><stop offset="0" stop-color="#006cff"/><stop offset="0.547" stop-color="#0086ff"/><stop offset="1" stop-color="#009dff"/></linearGradient>
<linearGradient id="f16" gradientUnits="userSpaceOnUse" x1="66.73" y1="419.17" x2="72.93" y2="451.96"><stop offset="0" stop-color="#004eff"/><stop offset="0.181" stop-color="#0066ff"/><stop offset="0.404" stop-color="#0086ff"/><stop offset="0.628" stop-color="#00abff"/><stop offset="0.851" stop-color="#00d3ff"/><stop offset="1" stop-color="#00f0ff"/></linearGradient>
<linearGradient id="f17" gradientUnits="userSpaceOnUse" x1="66.73" y1="419.17" x2="73.07" y2="452.03"><stop offset="0" stop-color="#004eff"/><stop offset="0.181" stop-color="#0066ff"/><stop offset="0.404" stop-color="#0086ff"/><stop offset="0.628" stop-color="#00abff"/><stop offset="0.851" stop-color="#00d3ff"/><stop offset="1" stop-color="#00f0ff"/></linearGradient>
<linearGradient id="f18" gradientUnits="userSpaceOnUse" x1="94.39" y1="419.25" x2="120.28" y2="450.64"><stop offset="0" stop-color="#0062ff"/><stop offset="0.023" stop-color="#0066ff"/><stop offset="0.237" stop-color="#0086ff"/><stop offset="0.451" stop-color="#00abff"/><stop offset="0.664" stop-color="#00d3ff"/><stop offset="0.878" stop-color="#00ffff"/><stop offset="1" stop-color="#00ffe5"/></linearGradient>
<linearGradient id="f19" gradientUnits="userSpaceOnUse" x1="94.84" y1="419.19" x2="103.02" y2="452.71"><stop offset="0" stop-color="#0062ff"/><stop offset="0.023" stop-color="#0066ff"/><stop offset="0.237" stop-color="#0086ff"/><stop offset="0.451" stop-color="#00abff"/><stop offset="0.664" stop-color="#00d3ff"/><stop offset="0.878" stop-color="#00ffff"/><stop offset="1" stop-color="#00ffe5"/></linearGradient>
<linearGradient id="f20" gradientUnits="userSpaceOnUse" x1="127.7" y1="409.1" x2="117.4" y2="434.18"><stop offset="0" stop-color="#0081ff"/><stop offset="0.059" stop-color="#0086ff"/><stop offset="0.412" stop-color="#00abff"/><stop offset="0.764" stop-color="#00d3ff"/><stop offset="1" stop-color="#00f0ff"/></linearGradient>
<linearGradient id="f21" gradientUnits="userSpaceOnUse" x1="123.63" y1="418.86" x2="114.18" y2="444.96"><stop offset="0" stop-color="#00a9ff"/><stop offset="0.019" stop-color="#00abff"/><stop offset="0.4" stop-color="#00d3ff"/><stop offset="0.782" stop-color="#00ffff"/><stop offset="1" stop-color="#00ffe5"/></linearGradient>
<linearGradient id="f22" gradientUnits="userSpaceOnUse" x1="153.5" y1="411.83" x2="146.24" y2="439.62"><stop offset="0" stop-color="#006cff"/><stop offset="0.314" stop-color="#0086ff"/><stop offset="0.716" stop-color="#00abff"/><stop offset="1" stop-color="#00c7ff"/></linearGradient>
<linearGradient id="f23" gradientUnits="userSpaceOnUse" x1="151.74" y1="418.95" x2="142.54" y2="445"><stop offset="0" stop-color="#0081ff"/><stop offset="0.059" stop-color="#0086ff"/><stop offset="0.412" stop-color="#00abff"/><stop offset="0.764" stop-color="#00d3ff"/><stop offset="1" stop-color="#00f0ff"/></linearGradient>
<linearGradient id="f24" gradientUnits="userSpaceOnUse" x1="66.66" y1="445.83" x2="74.5" y2="479.58"><stop offset="0" stop-color="#00c7ff"/><stop offset="0.074" stop-color="#00d3ff"/><stop offset="0.332" stop-color="#00ffff"/><stop offset="0.59" stop-color="#00ffd3"/><stop offset="0.848" stop-color="#00ffab"/><stop offset="1" stop-color="#00ff95"/></linearGradient>
<linearGradient id="f25" gradientUnits="userSpaceOnUse" x1="66.61" y1="445.82" x2="75.84" y2="480.02"><stop offset="0" stop-color="#00c7ff"/><stop offset="0.074" stop-color="#00d3ff"/><stop offset="0.332" stop-color="#00ffff"/><stop offset="0.59" stop-color="#00ffd3"/><stop offset="0.848" stop-color="#00ffab"/><stop offset="1" stop-color="#00ff95"/></linearGradient>
<linearGradient id="f26" gradientUnits="userSpaceOnUse" x1="94.75" y1="445.85" x2="104.99" y2="480.24"><stop offset="0" stop-color="#00e5ff"/><stop offset="0.142" stop-color="#00ffff"/><stop offset="0.389" stop-color="#00ffd3"/><stop offset="0.637" stop-color="#00ffab"/><stop offset="0.884" stop-color="#00ff86"/><stop offset="1" stop-color="#00ff76"/></linearGradient>
<linearGradient id="f27" gradientUnits="userSpaceOnUse" x1="94.76" y1="445.86" x2="104.57" y2="480.13"><stop offset="0" stop-color="#00e5ff"/><stop offset="0.142" stop-color="#00ffff"/><stop offset="0.389" stop-color="#00ffd3"/><stop offset="0.637" stop-color="#00ffab"/><stop offset="0.884" stop-color="#00ff86"/><stop offset="1" stop-color="#00ff76"/></linearGradient>
<linearGradient id="f28" gradientUnits="userSpaceOnUse" x1="126.9" y1="436.66" x2="117.44" y2="462.77"><stop offset="0" stop-color="#00e5ff"/><stop offset="0.218" stop-color="#00ffff"/><stop offset="0.6" stop-color="#00ffd3"/><stop offset="0.981" stop-color="#00ffab"/><stop offset="1" stop-color="#00ffa9"/></linearGradient>
<linearGradient id="f29" gradientUnits="userSpaceOnUse" x1="123.63" y1="445.96" x2="112.49" y2="469.81"><stop offset="0" stop-color="#00fff0"/><stop offset="0.213" stop-color="#00ffd3"/><stop offset="0.532" stop-color="#00ffab"/><stop offset="0.851" stop-color="#00ff86"/><stop offset="1" stop-color="#00ff76"/></linearGradient>
<linearGradient id="f30" gradientUnits="userSpaceOnUse" x1="155.57" y1="436.12" x2="145.52" y2="461.76"><stop offset="0" stop-color="#00bdff"/><stop offset="0.207" stop-color="#00d3ff"/><stop offset="0.595" stop-color="#00ffff"/><stop offset="0.983" stop-color="#00ffd3"/><stop offset="1" stop-color="#00ffd1"/></linearGradient>
<linearGradient id="f31" gradientUnits="userSpaceOnUse" x1="151.82" y1="445.71" x2="141.59" y2="471.13"><stop offset="0" stop-color="#00e5ff"/><stop offset="0.218" stop-color="#00ffff"/><stop offset="0.6" stop-color="#00ffd3"/><stop offset="0.981" stop-color="#00ffab"/><stop offset="1" stop-color="#00ffa9"/></linearGradient>
<clipPath id="kg"><rect x="344.5" y="365.1" width="112.8" height="108.1"/></clipPath>
<linearGradient id="g4" gradientUnits="userSpaceOnUse" x1="344.5" y1="377.26" x2="344.5" y2="434.01"><stop offset="0" stop-color="#0005ff"/><stop offset="1" stop-color="#0009ff"/></linearGradient>
<linearGradient id="g5" gradientUnits="userSpaceOnUse" x1="344.5" y1="377.26" x2="344.5" y2="434.01"><stop offset="0" stop-color="#0005ff"/><stop offset="1" stop-color="#0009ff"/></linearGradient>
<linearGradient id="g6" gradientUnits="userSpaceOnUse" x1="400.9" y1="363.32" x2="400.9" y2="447.95"><stop offset="0" stop-color="#0005ff"/><stop offset="1" stop-color="#0008ff"/></linearGradient>
<linearGradient id="g7" gradientUnits="userSpaceOnUse" x1="404.17" y1="378.02" x2="391.68" y2="431.87"><stop offset="0" stop-color="#0005ff"/><stop offset="1" stop-color="#0009ff"/></linearGradient>
<linearGradient id="g8" gradientUnits="userSpaceOnUse" x1="344.5" y1="416.24" x2="344.5" y2="449.09"><stop offset="0" stop-color="#0007ff"/><stop offset="0.474" stop-color="#000eff"/><stop offset="1" stop-color="#0018ff"/></linearGradient>
<linearGradient id="g9" gradientUnits="userSpaceOnUse" x1="344.5" y1="416.24" x2="344.5" y2="449.09"><stop offset="0" stop-color="#0007ff"/><stop offset="0.474" stop-color="#000eff"/><stop offset="1" stop-color="#0018ff"/></linearGradient>
<linearGradient id="g10" gradientUnits="userSpaceOnUse" x1="407.79" y1="391.18" x2="394.19" y2="446.41"><stop offset="0" stop-color="#0006ff"/><stop offset="1" stop-color="#000aff"/></linearGradient>
<linearGradient id="g11" gradientUnits="userSpaceOnUse" x1="401.97" y1="416.7" x2="389.93" y2="444.3"><stop offset="0" stop-color="#0007ff"/><stop offset="0.474" stop-color="#000eff"/><stop offset="1" stop-color="#0018ff"/></linearGradient>
<linearGradient id="g12" gradientUnits="userSpaceOnUse" x1="344.5" y1="443" x2="344.5" y2="476.38"><stop offset="0" stop-color="#0015ff"/><stop offset="0.419" stop-color="#001dff"/><stop offset="1" stop-color="#002bff"/></linearGradient>
<linearGradient id="g13" gradientUnits="userSpaceOnUse" x1="344.5" y1="443" x2="344.5" y2="476.38"><stop offset="0" stop-color="#0015ff"/><stop offset="0.419" stop-color="#001dff"/><stop offset="1" stop-color="#002bff"/></linearGradient>
<linearGradient id="g14" gradientUnits="userSpaceOnUse" x1="430.45" y1="414.7" x2="397.77" y2="449.5"><stop offset="0" stop-color="#0008ff"/><stop offset="0.433" stop-color="#000eff"/><stop offset="1" stop-color="#0018ff"/></linearGradient>
<linearGradient id="g15" gradientUnits="userSpaceOnUse" x1="408.61" y1="435.35" x2="386.63" y2="466.21"><stop offset="0" stop-color="#000eff"/><stop offset="0.014" stop-color="#000eff"/><stop offset="0.583" stop-color="#001dff"/><stop offset="1" stop-color="#002bff"/></linearGradient>
<linearGradient id="cb" x1="0" y1="0" x2="0" y2="1"><stop offset="0" stop-color="#ff0000"/><stop offset="0.03" stop-color="#ff0d00"/><stop offset="0.05" stop-color="#ff1f00"/><stop offset="0.07" stop-color="#ff3500"/><stop offset="0.1" stop-color="#ff4d00"/><stop offset="0.12" stop-color="#ff6800"/><stop offset="0.15" stop-color="#ff8300"/><stop offset="0.18" stop-color="#ffa000"/><stop offset="0.2" stop-color="#ffbf00"/><stop offset="0.22" stop-color="#ffde00"/><stop offset="0.25" stop-color="#ffff00"/><stop offset="0.28" stop-color="#d3ff00"/><stop offset="0.3" stop-color="#abff00"/><stop offset="0.32" stop-color="#86ff00"/><stop offset="0.35" stop-color="#66ff00"/><stop offset="0.38" stop-color="#49ff00"/><stop offset="0.4" stop-color="#31ff00"/><stop offset="0.43" stop-color="#1dff00"/><stop offset="0.45" stop-color="#0eff00"/><stop offset="0.47" stop-color="#04ff00"/><stop offset="0.5" stop-color="#00ff00"/><stop offset="0.53" stop-color="#00ff04"/><stop offset="0.55" stop-color="#00ff0e"/><stop offset="0.57" stop-color="#00ff1d"/><stop offset="0.6" stop-color="#00ff31"/><stop offset="0.62" stop-color="#00ff49"/><stop offset="0.65" stop-color="#00ff66"/><stop offset="0.68" stop-color="#00ff86"/><stop offset="0.7" stop-color="#00ffab"/><stop offset="0.72" stop-color="#00ffd3"/><stop offset="0.75" stop-color="#00ffff"/><stop offset="0.78" stop-color="#00d3ff"/><stop offset="0.8" stop-color="#00abff"/><stop offset="0.82" stop-color="#0086ff"/><stop offset="0.85" stop-color="#0066ff"/><stop offset="0.88" stop-color="#0049ff"/><stop offset="0.9" stop-color="#0031ff"/><stop offset="0.93" stop-color="#001dff"/><stop offset="0.95" stop-color="#000eff"/><stop offset="0.97" stop-color="#0004ff"/><stop offset="1" stop-color="#0000ff"/></linearGradient>
</defs>
<rect width="550" height="522" fill="#fff"/>
<g clip-path="url(#ka)" shape-rendering="crispEdges">
<rect x="66" y="16" width="114" height="108.5" fill="#00ffe0"/>
<polygon points="66,16 94.5,16 94.5,43.12" fill="url(#a0)" stroke="url(#a0)" stroke-width="0.6"/>
<polygon points="66,16 66,43.12 94.5,43.12" fill="url(#a1)" stroke="url(#a1)" stroke-width="0.6"/>
<polygon points="94.5,16 112.31,16 112.31,43.12" fill="url(#a2)" stroke="url(#a2)" stroke-width="0.6"/>
<polygon points="94.5,16 94.5,43.12 112.31,43.12" fill="url(#a3)" stroke="url(#a3)" stroke-width="0.6"/>
<polygon points="112.31,16 123,16 123,43.12" fill="url(#a4)" stroke="url(#a4)" stroke-width="0.6"/>
<polygon points="112.31,16 112.31,43.12 123,43.12" fill="url(#a5)" stroke="url(#a5)" stroke-width="0.6"/>
<polygon points="123,16 133.69,16 133.69,43.12" fill="url(#a6)" stroke="url(#a6)" stroke-width="0.6"/>
<polygon points="123,16 123,43.12 133.69,43.12" fill="url(#a7)" stroke="url(#a7)" stroke-width="0.6"/>
<polygon points="133.69,16 151.5,16 151.5,43.12" fill="url(#a8)" stroke="url(#a8)" stroke-width="0.6"/>
<polygon points="133.69,16 133.69,43.12 151.5,43.12" fill="url(#a9)" stroke="url(#a9)" stroke-width="0.6"/>
<polygon points="151.5,16 180,16 180,43.12" fill="url(#a10)" stroke="url(#a10)" stroke-width="0.6"/>
<polygon points="151.5,16 151.5,43.12 180,43.12" fill="url(#a11)" stroke="url(#a11)" stroke-width="0.6"/>
<polygon points="66,43.12 94.5,43.12 94.5,70.25" fill="url(#a12)" stroke="url(#a12)" stroke-width="0.6"/>
<polygon points="66,43.12 66,70.25 94.5,70.25" fill="url(#a13)" stroke="url(#a13)" stroke-width="0.6"/>
<polygon points="94.5,43.12 112.31,43.12 112.31,70.25" fill="url(#a14)" stroke="url(#a14)" stroke-width="0.6"/>
<polygon points="94.5,43.12 94.5,70.25 112.31,70.25" fill="url(#a15)" stroke="url(#a15)" stroke-width="0.6"/>
<polygon points="112.31,43.12 123,43.12 123,70.25" fill="url(#a16)" stroke="url(#a16)" stroke-width="0.6"/>
<polygon points="112.31,43.12 112.31,70.25 123,70.25" fill="url(#a17)" stroke="url(#a17)" stroke-width="0.6"/>
<polygon points="123,43.12 133.69,43.12 133.69,70.25" fill="url(#a18)" stroke="url(#a18)" stroke-width="0.6"/>
<polygon points="123,43.12 123,70.25 133.69,70.25" fill="url(#a19)" stroke="url(#a19)" stroke-width="0.6"/>
<polygon points="133.69,43.12 151.5,43.12 151.5,70.25" fill="url(#a20)" stroke="url(#a20)" stroke-width="0.6"/>
<polygon points="133.69,43.12 133.69,70.25 151.5,70.25" fill="url(#a21)" stroke="url(#a21)" stroke-width="0.6"/>
<polygon points="151.5,43.12 180,43.12 180,70.25" fill="url(#a22)" stroke="url(#a22)" stroke-width="0.6"/>
<polygon points="151.5,43.12 151.5,70.25 180,70.25" fill="url(#a23)" stroke="url(#a23)" stroke-width="0.6"/>
<polygon points="66,70.25 94.5,70.25 94.5,97.38" fill="url(#a24)" stroke="url(#a24)" stroke-width="0.6"/>
<polygon points="66,70.25 66,97.38 94.5,97.38" fill="url(#a25)" stroke="url(#a25)" stroke-width="0.6"/>
<polygon points="94.5,70.25 112.31,70.25 112.31,97.38" fill="url(#a26)" stroke="url(#a26)" stroke-width="0.6"/>
<polygon points="94.5,70.25 94.5,97.38 112.31,97.38" fill="url(#a27)" stroke="url(#a27)" stroke-width="0.6"/>
<polygon points="112.31,70.25 123,70.25 123,97.38" fill="url(#a28)" stroke="url(#a28)" stroke-width="0.6"/>
<polygon points="112.31,70.25 112.31,97.38 123,97.38" fill="url(#a29)" stroke="url(#a29)" stroke-width="0.6"/>
<polygon points="123,70.25 133.69,70.25 133.69,97.38" fill="url(#a30)" stroke="url(#a30)" stroke-width="0.6"/>
<polygon points="123,70.25 123,97.38 133.69,97.38" fill="url(#a31)" stroke="url(#a31)" stroke-width="0.6"/>
<polygon points="133.69,70.25 151.5,70.25 151.5,97.38" fill="url(#a32)" stroke="url(#a32)" stroke-width="0.6"/>
<polygon points="133.69,70.25 133.69,97.38 151.5,97.38" fill="url(#a33)" stroke="url(#a33)" stroke-width="0.6"/>
<polygon points="151.5,70.25 180,70.25 180,97.38" fill="url(#a34)" stroke="url(#a34)" stroke-width="0.6"/>
<polygon points="151.5,70.25 151.5,97.38 180,97.38" fill="url(#a35)" stroke="url(#a35)" stroke-width="0.6"/>
<polygon points="66,97.38 94.5,97.38 94.5,124.5" fill="url(#a36)" stroke="url(#a36)" stroke-width="0.6"/>
<polygon points="66,97.38 66,124.5 94.5,124.5" fill="url(#a37)" stroke="url(#a37)" stroke-width="0.6"/>
<polygon points="94.5,97.38 112.31,97.38 112.31,124.5" fill="url(#a38)" stroke="url(#a38)" stroke-width="0.6"/>
<polygon points="94.5,97.38 94.5,124.5 112.31,124.5" fill="url(#a39)" stroke="url(#a39)" stroke-width="0.6"/>
<polygon points="112.31,97.38 123,97.38 123,124.5" fill="url(#a40)" stroke="url(#a40)" stroke-width="0.6"/>
<polygon points="112.31,97.38 112.31,124.5 123,124.5" fill="url(#a41)" stroke="url(#a41)" stroke-width="0.6"/>
<polygon points="123,97.38 133.69,97.38 133.69,124.5" fill="url(#a42)" stroke="url(#a42)" stroke-width="0.6"/>
<polygon points="123,97.38 123,124.5 133.69,124.5" fill="url(#a43)" stroke="url(#a43)" stroke-width="0.6"/>
<polygon points="133.69,97.38 151.5,97.38 151.5,124.5" fill="url(#a44)" stroke="url(#a44)" stroke-width="0.6"/>
<polygon points="133.69,97.38 133.69,124.5 151.5,124.5" fill="url(#a45)" stroke="url(#a45)" stroke-width="0.6"/>
<polygon points="151.5,97.38 180,97.38 180,124.5" fill="url(#a46)" stroke="url(#a46)" stroke-width="0.6"/>
<polygon points="151.5,97.38 151.5,124.5 180,124.5" fill="url(#a47)" stroke="url(#a47)" stroke-width="0.6"/>
</g>
<rect x="66" y="16" width="114" height="108.5" fill="none" stroke="#000" stroke-opacity="0.55" stroke-width="0.5"/>
<path d="M66 16V124.5H180" fill="none" stroke="#000" stroke-opacity="0.85" stroke-width="0.55"/>
<path d="M66 124.5v1.6M66 124.5h-1.6M73.12 124.5v0.9M66 117.72h-0.9M80.25 124.5v1.6M66 110.94h-1.6M87.38 124.5v0.9M66 104.16h-0.9M94.5 124.5v1.6M66 97.38h-1.6M101.62 124.5v0.9M66 90.59h-0.9M108.75 124.5v1.6M66 83.81h-1.6M115.88 124.5v0.9M66 77.03h-0.9M123 124.5v1.6M66 70.25h-1.6M130.12 124.5v0.9M66 63.47h-0.9M137.25 124.5v1.6M66 56.69h-1.6M144.38 124.5v0.9M66 49.91h-0.9M151.5 124.5v1.6M66 43.12h-1.6M158.62 124.5v0.9M66 36.34h-0.9M165.75 124.5v1.6M66 29.56h-1.6M172.88 124.5v0.9M66 22.78h-0.9M180 124.5v1.6M66 16h-1.6" stroke="#000" stroke-width="0.5" fill="none"/>
<g class="t" style="font-size:5.07px"><text x="66" y="132.48" text-anchor="middle">4.0</text><text x="62.8" y="126.2" text-anchor="end">0.8</text><text x="80.25" y="132.48" text-anchor="middle">4.2</text><text x="62.8" y="112.64" text-anchor="end">1.0</text><text x="94.5" y="132.48" text-anchor="middle">4.4</text><text x="62.8" y="99.08" text-anchor="end">1.2</text><text x="108.75" y="132.48" text-anchor="middle">4.6</text><text x="62.8" y="85.51" text-anchor="end">1.4</text><text x="123" y="132.48" text-anchor="middle">4.8</text><text x="62.8" y="71.95" text-anchor="end">1.6</text><text x="137.25" y="132.48" text-anchor="middle">5.0</text><text x="62.8" y="58.39" text-anchor="end">1.8</text><text x="151.5" y="132.48" text-anchor="middle">5.2</text><text x="62.8" y="44.83" text-anchor="end">2.0</text><text x="165.75" y="132.48" text-anchor="middle">5.4</text><text x="62.8" y="31.26" text-anchor="end">2.2</text><text x="180" y="132.48" text-anchor="middle">5.6</text><text x="62.8" y="17.7" text-anchor="end">2.4</text></g>
<text class="l" font-size="6.18" x="105.5" y="142.24" textLength="35" lengthAdjust="spacingAndGlyphs">X position /m</text>
<text class="l" font-size="6.18" transform="translate(53.64 70.25) rotate(-90)" x="-17.5" textLength="35" lengthAdjust="spacingAndGlyphs">Z position /m</text>
<rect x="194.8" y="16" width="9.4" height="108.5" fill="url(#cb)" stroke="#000" stroke-opacity="0.6" stroke-width="0.4"/>
<path d="M204.2 124.5h1.3M204.2 113.65h1.3M204.2 102.8h1.3M204.2 91.95h1.3M204.2 81.1h1.3M204.2 70.25h1.3M204.2 59.4h1.3M204.2 48.55h1.3M204.2 37.7h1.3M204.2 26.85h1.3M204.2 16h1.3" stroke="#000" stroke-width="0.5" fill="none"/>
<g class="u" style="font-size:4.76px"><text x="208.6" y="126.5">0.000</text><text x="208.6" y="115.65">10.00</text><text x="208.6" y="104.8">20.00</text><text x="208.6" y="93.95">30.00</text><text x="208.6" y="83.1">40.00</text><text x="208.6" y="72.25">50.00</text><text x="208.6" y="61.4">60.00</text><text x="208.6" y="50.55">70.00</text><text x="208.6" y="39.7">80.00</text><text x="208.6" y="28.85">90.00</text><text x="208.6" y="18">100.0</text></g>
<text class="l" font-size="6.18" x="188.2" y="11.5" textLength="34.1" lengthAdjust="spacingAndGlyphs">Coverage /%</text>
<text class="c" x="110.5" y="168.3" textLength="50" lengthAdjust="spacingAndGlyphs">Tree4 P4</text>
<g clip-path="url(#kb)" shape-rendering="crispEdges">
<rect x="336" y="14.3" width="124.3" height="114.4" fill="#0029ff"/>
<polygon points="336,14.3 367.07,14.3 367.07,42.9" fill="url(#b0)" stroke="url(#b0)" stroke-width="0.6"/>
<polygon points="336,14.3 336,42.9 367.07,42.9" fill="url(#b1)" stroke="url(#b1)" stroke-width="0.6"/>
<polygon points="367.07,14.3 398.15,14.3 398.15,42.9" fill="url(#b2)" stroke="url(#b2)" stroke-width="0.6"/>
<polygon points="367.07,14.3 367.07,42.9 398.15,42.9" fill="url(#b3)" stroke="url(#b3)" stroke-width="0.6"/>
<polygon points="398.15,14.3 429.23,14.3 429.23,42.9" fill="#0014ff" stroke="#0014ff" stroke-width="0.6"/>
<polygon points="398.15,14.3 398.15,42.9 429.23,42.9" fill="url(#b5)" stroke="url(#b5)" stroke-width="0.6"/>
<polygon points="429.23,14.3 460.3,14.3 460.3,42.9" fill="#0014ff" stroke="#0014ff" stroke-width="0.6"/>
<polygon points="429.23,14.3 429.23,42.9 460.3,42.9" fill="#0014ff" stroke="#0014ff" stroke-width="0.6"/>
<polygon points="336,42.9 367.07,42.9 367.07,71.5" fill="url(#b8)" stroke="url(#b8)" stroke-width="0.6"/>
<polygon points="336,42.9 336,71.5 367.07,71.5" fill="url(#b9)" stroke="url(#b9)" stroke-width="0.6"/>
<polygon points="367.07,42.9 398.15,42.9 398.15,71.5" fill="url(#b10)" stroke="url(#b10)" stroke-width="0.6"/>
<polygon points="367.07,42.9 367.07,71.5 398.15,71.5" fill="url(#b11)" stroke="url(#b11)" stroke-width="0.6"/>
<polygon points="398.15,42.9 429.23,42.9 429.23,71.5" fill="url(#b12)" stroke="url(#b12)" stroke-width="0.6"/>
<polygon points="398.15,42.9 398.15,71.5 429.23,71.5" fill="url(#b13)" stroke="url(#b13)" stroke-width="0.6"/>
<polygon points="429.23,42.9 460.3,42.9 460.3,71.5" fill="url(#b14)" stroke="url(#b14)" stroke-width="0.6"/>
<polygon points="429.23,42.9 429.23,71.5 460.3,71.5" fill="url(#b15)" stroke="url(#b15)" stroke-width="0.6"/>
<polygon points="336,71.5 367.07,71.5 367.07,100.1" fill="url(#b16)" stroke="url(#b16)" stroke-width="0.6"/>
<polygon points="336,71.5 336,100.1 367.07,100.1" fill="url(#b17)" stroke="url(#b17)" stroke-width="0.6"/>
<polygon points="367.07,71.5 398.15,71.5 398.15,100.1" fill="url(#b18)" stroke="url(#b18)" stroke-width="0.6"/>
<polygon points="367.07,71.5 367.07,100.1 398.15,100.1" fill="url(#b19)" stroke="url(#b19)" stroke-width="0.6"/>
<polygon points="398.15,71.5 429.23,71.5 429.23,100.1" fill="url(#b20)" stroke="url(#b20)" stroke-width="0.6"/>
<polygon points="398.15,71.5 398.15,100.1 429.23,100.1" fill="url(#b21)" stroke="url(#b21)" stroke-width="0.6"/>
<polygon points="429.23,71.5 460.3,71.5 460.3,100.1" fill="url(#b22)" stroke="url(#b22)" stroke-width="0.6"/>
<polygon points="429.23,71.5 429.23,100.1 460.3,100.1" fill="url(#b23)" stroke="url(#b23)" stroke-width="0.6"/>
<polygon points="336,100.1 367.07,100.1 367.07,128.7" fill="url(#b24)" stroke="url(#b24)" stroke-width="0.6"/>
<polygon points="336,100.1 336,128.7 367.07,128.7" fill="url(#b25)" stroke="url(#b25)" stroke-width="0.6"/>
<polygon points="367.07,100.1 398.15,100.1 398.15,128.7" fill="url(#b26)" stroke="url(#b26)" stroke-width="0.6"/>
<polygon points="367.07,100.1 367.07,128.7 398.15,128.7" fill="url(#b27)" stroke="url(#b27)" stroke-width="0.6"/>
<polygon points="398.15,100.1 429.23,100.1 429.23,128.7" fill="url(#b28)" stroke="url(#b28)" stroke-width="0.6"/>
<polygon points="398.15,100.1 398.15,128.7 429.23,128.7" fill="url(#b29)" stroke="url(#b29)" stroke-width="0.6"/>
<polygon points="429.23,100.1 460.3,100.1 460.3,128.7" fill="url(#b30)" stroke="url(#b30)" stroke-width="0.6"/>
<polygon points="429.23,100.1 429.23,128.7 460.3,128.7" fill="url(#b31)" stroke="url(#b31)" stroke-width="0.6"/>
</g>
<rect x="336" y="14.3" width="124.3" height="114.4" fill="none" stroke="#000" stroke-opacity="0.55" stroke-width="0.5"/>
<path d="M336 14.3V128.7H460.3" fill="none" stroke="#000" stroke-opacity="0.85" stroke-width="0.55"/>
<path d="M336 128.7v1.6M336 128.7h-1.6M343.77 128.7v0.9M336 121.55h-0.9M351.54 128.7v1.6M336 114.4h-1.6M359.31 128.7v0.9M336 107.25h-0.9M367.07 128.7v1.6M336 100.1h-1.6M374.84 128.7v0.9M336 92.95h-0.9M382.61 128.7v1.6M336 85.8h-1.6M390.38 128.7v0.9M336 78.65h-0.9M398.15 128.7v1.6M336 71.5h-1.6M405.92 128.7v0.9M336 64.35h-0.9M413.69 128.7v1.6M336 57.2h-1.6M421.46 128.7v0.9M336 50.05h-0.9M429.23 128.7v1.6M336 42.9h-1.6M436.99 128.7v0.9M336 35.75h-0.9M444.76 128.7v1.6M336 28.6h-1.6M452.53 128.7v0.9M336 21.45h-0.9M460.3 128.7v1.6M336 14.3h-1.6" stroke="#000" stroke-width="0.5" fill="none"/>
<g class="t" style="font-size:5.52px"><text x="336" y="137.26" text-anchor="middle">4.0</text><text x="332.8" y="130.4" text-anchor="end">0.8</text><text x="351.54" y="137.26" text-anchor="middle">4.2</text><text x="332.8" y="116.1" text-anchor="end">1.0</text><text x="367.07" y="137.26" text-anchor="middle">4.4</text><text x="332.8" y="101.8" text-anchor="end">1.2</text><text x="382.61" y="137.26" text-anchor="middle">4.6</text><text x="332.8" y="87.5" text-anchor="end">1.4</text><text x="398.15" y="137.26" text-anchor="middle">4.8</text><text x="332.8" y="73.2" text-anchor="end">1.6</text><text x="413.69" y="137.26" text-anchor="middle">5.0</text><text x="332.8" y="58.9" text-anchor="end">1.8</text><text x="429.23" y="137.26" text-anchor="middle">5.2</text><text x="332.8" y="44.6" text-anchor="end">2.0</text><text x="444.76" y="137.26" text-anchor="middle">5.4</text><text x="332.8" y="30.3" text-anchor="end">2.2</text><text x="460.3" y="137.26" text-anchor="middle">5.6</text><text x="332.8" y="16" text-anchor="end">2.4</text></g>
<text class="l" font-size="6.74" x="379.07" y="147.41" textLength="38.16" lengthAdjust="spacingAndGlyphs">X position /m</text>
<text class="l" font-size="6.74" transform="translate(322.52 71.5) rotate(-90)" x="-19.08" textLength="38.16" lengthAdjust="spacingAndGlyphs">Z position /m</text>
<rect x="476" y="14.3" width="10" height="114.4" fill="url(#cb)" stroke="#000" stroke-opacity="0.6" stroke-width="0.4"/>
<path d="M486 128.7h1.3M486 117.26h1.3M486 105.82h1.3M486 94.38h1.3M486 82.94h1.3M486 71.5h1.3M486 60.06h1.3M486 48.62h1.3M486 37.18h1.3M486 25.74h1.3M486 14.3h1.3" stroke="#000" stroke-width="0.5" fill="none"/>
<g class="u" style="font-size:5.19px"><text x="490.4" y="130.7">0.000</text><text x="490.4" y="119.26">10.00</text><text x="490.4" y="107.82">20.00</text><text x="490.4" y="96.38">30.00</text><text x="490.4" y="84.94">40.00</text><text x="490.4" y="73.5">50.00</text><text x="490.4" y="62.06">60.00</text><text x="490.4" y="50.62">70.00</text><text x="490.4" y="39.18">80.00</text><text x="490.4" y="27.74">90.00</text><text x="490.4" y="16.3">100.0</text></g>
<text class="l" font-size="6.74" x="471.25" y="8.9" textLength="37" lengthAdjust="spacingAndGlyphs">Coverage /%</text>
<text class="c" x="387.5" y="168.3" textLength="50" lengthAdjust="spacingAndGlyphs">Tree4 P5</text>
<g clip-path="url(#kc)" shape-rendering="crispEdges">
<rect x="22.4" y="191.4" width="112.5" height="107.3" fill="#0018ff"/>
<polygon points="22.4,191.4 50.52,191.4 50.52,218.22" fill="url(#c0)" stroke="url(#c0)" stroke-width="0.6"/>
<polygon points="22.4,191.4 22.4,218.22 50.52,218.22" fill="url(#c1)" stroke="url(#c1)" stroke-width="0.6"/>
<polygon points="50.52,191.4 78.65,191.4 78.65,218.22" fill="url(#c2)" stroke="url(#c2)" stroke-width="0.6"/>
<polygon points="50.52,191.4 50.52,218.22 78.65,218.22" fill="url(#c3)" stroke="url(#c3)" stroke-width="0.6"/>
<polygon points="78.65,191.4 106.78,191.4 106.78,218.22" fill="url(#c4)" stroke="url(#c4)" stroke-width="0.6"/>
<polygon points="78.65,191.4 78.65,218.22 106.78,218.22" fill="url(#c5)" stroke="url(#c5)" stroke-width="0.6"/>
<polygon points="106.78,191.4 134.9,191.4 134.9,218.22" fill="#000aff" stroke="#000aff" stroke-width="0.6"/>
<polygon points="106.78,191.4 106.78,218.22 134.9,218.22" fill="url(#c7)" stroke="url(#c7)" stroke-width="0.6"/>
<polygon points="22.4,218.22 50.52,218.22 50.52,245.05" fill="url(#c8)" stroke="url(#c8)" stroke-width="0.6"/>
<polygon points="22.4,218.22 22.4,245.05 50.52,245.05" fill="url(#c9)" stroke="url(#c9)" stroke-width="0.6"/>
<polygon points="50.52,218.22 78.65,218.22 78.65,245.05" fill="url(#c10)" stroke="url(#c10)" stroke-width="0.6"/>
<polygon points="50.52,218.22 50.52,245.05 78.65,245.05" fill="url(#c11)" stroke="url(#c11)" stroke-width="0.6"/>
<polygon points="78.65,218.22 106.78,218.22 106.78,245.05" fill="url(#c12)" stroke="url(#c12)" stroke-width="0.6"/>
<polygon points="78.65,218.22 78.65,245.05 106.78,245.05" fill="url(#c13)" stroke="url(#c13)" stroke-width="0.6"/>
<polygon points="106.78,218.22 134.9,218.22 134.9,245.05" fill="url(#c14)" stroke="url(#c14)" stroke-width="0.6"/>
<polygon points="106.78,218.22 106.78,245.05 134.9,245.05" fill="url(#c15)" stroke="url(#c15)" stroke-width="0.6"/>
<polygon points="22.4,245.05 50.52,245.05 50.52,271.88" fill="url(#c16)" stroke="url(#c16)" stroke-width="0.6"/>
<polygon points="22.4,245.05 22.4,271.88 50.52,271.88" fill="url(#c17)" stroke="url(#c17)" stroke-width="0.6"/>
<polygon points="50.52,245.05 78.65,245.05 78.65,271.88" fill="url(#c18)" stroke="url(#c18)" stroke-width="0.6"/>
<polygon points="50.52,245.05 50.52,271.88 78.65,271.88" fill="url(#c19)" stroke="url(#c19)" stroke-width="0.6"/>
<polygon points="78.65,245.05 106.78,245.05 106.78,271.88" fill="url(#c20)" stroke="url(#c20)" stroke-width="0.6"/>
<polygon points="78.65,245.05 78.65,271.88 106.78,271.88" fill="url(#c21)" stroke="url(#c21)" stroke-width="0.6"/>
<polygon points="106.78,245.05 134.9,245.05 134.9,271.88" fill="url(#c22)" stroke="url(#c22)" stroke-width="0.6"/>
<polygon points="106.78,245.05 106.78,271.88 134.9,271.88" fill="url(#c23)" stroke="url(#c23)" stroke-width="0.6"/>
<polygon points="22.4,271.88 50.52,271.88 50.52,298.7" fill="url(#c24)" stroke="url(#c24)" stroke-width="0.6"/>
<polygon points="22.4,271.88 22.4,298.7 50.52,298.7" fill="url(#c25)" stroke="url(#c25)" stroke-width="0.6"/>
<polygon points="50.52,271.88 78.65,271.88 78.65,298.7" fill="url(#c26)" stroke="url(#c26)" stroke-width="0.6"/>
<polygon points="50.52,271.88 50.52,298.7 78.65,298.7" fill="url(#c27)" stroke="url(#c27)" stroke-width="0.6"/>
<polygon points="78.65,271.88 106.78,271.88 106.78,298.7" fill="url(#c28)" stroke="url(#c28)" stroke-width="0.6"/>
<polygon points="78.65,271.88 78.65,298.7 106.78,298.7" fill="url(#c29)" stroke="url(#c29)" stroke-width="0.6"/>
<polygon points="106.78,271.88 134.9,271.88 134.9,298.7" fill="url(#c30)" stroke="url(#c30)" stroke-width="0.6"/>
<polygon points="106.78,271.88 106.78,298.7 134.9,298.7" fill="url(#c31)" stroke="url(#c31)" stroke-width="0.6"/>
</g>
<rect x="22.4" y="191.4" width="112.5" height="107.3" fill="none" stroke="#000" stroke-opacity="0.55" stroke-width="0.5"/>
<path d="M22.4 191.4V298.7H134.9" fill="none" stroke="#000" stroke-opacity="0.85" stroke-width="0.55"/>
<path d="M22.4 298.7v1.6M22.4 298.7h-1.6M29.43 298.7v0.9M22.4 291.99h-0.9M36.46 298.7v1.6M22.4 285.29h-1.6M43.49 298.7v0.9M22.4 278.58h-0.9M50.52 298.7v1.6M22.4 271.88h-1.6M57.56 298.7v0.9M22.4 265.17h-0.9M64.59 298.7v1.6M22.4 258.46h-1.6M71.62 298.7v0.9M22.4 251.76h-0.9M78.65 298.7v1.6M22.4 245.05h-1.6M85.68 298.7v0.9M22.4 238.34h-0.9M92.71 298.7v1.6M22.4 231.64h-1.6M99.74 298.7v0.9M22.4 224.93h-0.9M106.78 298.7v1.6M22.4 218.22h-1.6M113.81 298.7v0.9M22.4 211.52h-0.9M120.84 298.7v1.6M22.4 204.81h-1.6M127.87 298.7v0.9M22.4 198.11h-0.9M134.9 298.7v1.6M22.4 191.4h-1.6" stroke="#000" stroke-width="0.5" fill="none"/>
<g class="t" style="font-size:5px"><text x="22.4" y="306.6" text-anchor="middle">4.0</text><text x="19.2" y="300.4" text-anchor="end">0.8</text><text x="36.46" y="306.6" text-anchor="middle">4.2</text><text x="19.2" y="286.99" text-anchor="end">1.0</text><text x="50.52" y="306.6" text-anchor="middle">4.4</text><text x="19.2" y="273.57" text-anchor="end">1.2</text><text x="64.59" y="306.6" text-anchor="middle">4.6</text><text x="19.2" y="260.16" text-anchor="end">1.4</text><text x="78.65" y="306.6" text-anchor="middle">4.8</text><text x="19.2" y="246.75" text-anchor="end">1.6</text><text x="92.71" y="306.6" text-anchor="middle">5.0</text><text x="19.2" y="233.34" text-anchor="end">1.8</text><text x="106.78" y="306.6" text-anchor="middle">5.2</text><text x="19.2" y="219.92" text-anchor="end">2.0</text><text x="120.84" y="306.6" text-anchor="middle">5.4</text><text x="19.2" y="206.51" text-anchor="end">2.2</text><text x="134.9" y="306.6" text-anchor="middle">5.6</text><text x="19.2" y="193.1" text-anchor="end">2.4</text></g>
<text class="l" font-size="6.1" x="61.38" y="316.3" textLength="34.54" lengthAdjust="spacingAndGlyphs">X position /m</text>
<text class="l" font-size="6.1" transform="translate(10.2 245.05) rotate(-90)" x="-17.27" textLength="34.54" lengthAdjust="spacingAndGlyphs">Z position /m</text>
<rect x="149.2" y="191.4" width="9.3" height="107.3" fill="url(#cb)" stroke="#000" stroke-opacity="0.6" stroke-width="0.4"/>
<path d="M158.5 298.7h1.3M158.5 287.97h1.3M158.5 277.24h1.3M158.5 266.51h1.3M158.5 255.78h1.3M158.5 245.05h1.3M158.5 234.32h1.3M158.5 223.59h1.3M158.5 212.86h1.3M158.5 202.13h1.3M158.5 191.4h1.3" stroke="#000" stroke-width="0.5" fill="none"/>
<g class="u" style="font-size:4.7px"><text x="162.9" y="300.7">0.000</text><text x="162.9" y="289.97">10.00</text><text x="162.9" y="279.24">20.00</text><text x="162.9" y="268.51">30.00</text><text x="162.9" y="257.78">40.00</text><text x="162.9" y="247.05">50.00</text><text x="162.9" y="236.32">60.00</text><text x="162.9" y="225.59">70.00</text><text x="162.9" y="214.86">80.00</text><text x="162.9" y="204.13">90.00</text><text x="162.9" y="193.4">100.0</text></g>
<text class="l" font-size="6.1" x="144.3" y="186.8" textLength="33.2" lengthAdjust="spacingAndGlyphs">Coverage /%</text>
<text class="c" x="64.65" y="343" textLength="49.5" lengthAdjust="spacingAndGlyphs">Tree5 P1</text>
<g clip-path="url(#kd)" shape-rendering="crispEdges">
<rect x="207.6" y="191.9" width="111.1" height="106.5" fill="#001fff"/>
<polygon points="207.6,191.9 235.38,191.9 235.38,218.53" fill="url(#d0)" stroke="url(#d0)" stroke-width="0.6"/>
<polygon points="207.6,191.9 207.6,218.53 235.38,218.53" fill="url(#d1)" stroke="url(#d1)" stroke-width="0.6"/>
<polygon points="235.38,191.9 263.15,191.9 263.15,218.53" fill="url(#d2)" stroke="url(#d2)" stroke-width="0.6"/>
<polygon points="235.38,191.9 235.38,218.53 263.15,218.53" fill="url(#d3)" stroke="url(#d3)" stroke-width="0.6"/>
<polygon points="263.15,191.9 290.92,191.9 290.92,218.53" fill="url(#d4)" stroke="url(#d4)" stroke-width="0.6"/>
<polygon points="263.15,191.9 263.15,218.53 290.92,218.53" fill="url(#d5)" stroke="url(#d5)" stroke-width="0.6"/>
<polygon points="290.92,191.9 318.7,191.9 318.7,218.53" fill="#0008ff" stroke="#0008ff" stroke-width="0.6"/>
<polygon points="290.92,191.9 290.92,218.53 318.7,218.53" fill="#0008ff" stroke="#0008ff" stroke-width="0.6"/>
<polygon points="207.6,218.53 235.38,218.53 235.38,245.15" fill="url(#d8)" stroke="url(#d8)" stroke-width="0.6"/>
<polygon points="207.6,218.53 207.6,245.15 235.38,245.15" fill="url(#d9)" stroke="url(#d9)" stroke-width="0.6"/>
<polygon points="235.38,218.53 263.15,218.53 263.15,245.15" fill="url(#d10)" stroke="url(#d10)" stroke-width="0.6"/>
<polygon points="235.38,218.53 235.38,245.15 263.15,245.15" fill="url(#d11)" stroke="url(#d11)" stroke-width="0.6"/>
<polygon points="263.15,218.53 290.92,218.53 290.92,245.15" fill="url(#d12)" stroke="url(#d12)" stroke-width="0.6"/>
<polygon points="263.15,218.53 263.15,245.15 290.92,245.15" fill="url(#d13)" stroke="url(#d13)" stroke-width="0.6"/>
<polygon points="290.92,218.53 318.7,218.53 318.7,245.15" fill="#0008ff" stroke="#0008ff" stroke-width="0.6"/>
<polygon points="290.92,218.53 290.92,245.15 318.7,245.15" fill="url(#d15)" stroke="url(#d15)" stroke-width="0.6"/>
<polygon points="207.6,245.15 235.38,245.15 235.38,271.77" fill="url(#d16)" stroke="url(#d16)" stroke-width="0.6"/>
<polygon points="207.6,245.15 207.6,271.77 235.38,271.77" fill="url(#d17)" stroke="url(#d17)" stroke-width="0.6"/>
<polygon points="235.38,245.15 263.15,245.15 263.15,271.77" fill="url(#d18)" stroke="url(#d18)" stroke-width="0.6"/>
<polygon points="235.38,245.15 235.38,271.77 263.15,271.77" fill="url(#d19)" stroke="url(#d19)" stroke-width="0.6"/>
<polygon points="263.15,245.15 290.92,245.15 290.92,271.77" fill="url(#d20)" stroke="url(#d20)" stroke-width="0.6"/>
<polygon points="263.15,245.15 263.15,271.77 290.92,271.77" fill="url(#d21)" stroke="url(#d21)" stroke-width="0.6"/>
<polygon points="290.92,245.15 318.7,245.15 318.7,271.77" fill="url(#d22)" stroke="url(#d22)" stroke-width="0.6"/>
<polygon points="290.92,245.15 290.92,271.77 318.7,271.77" fill="url(#d23)" stroke="url(#d23)" stroke-width="0.6"/>
<polygon points="207.6,271.77 235.38,271.77 235.38,298.4" fill="url(#d24)" stroke="url(#d24)" stroke-width="0.6"/>
<polygon points="207.6,271.77 207.6,298.4 235.38,298.4" fill="url(#d25)" stroke="url(#d25)" stroke-width="0.6"/>
<polygon points="235.38,271.77 263.15,271.77 263.15,298.4" fill="url(#d26)" stroke="url(#d26)" stroke-width="0.6"/>
<polygon points="235.38,271.77 235.38,298.4 263.15,298.4" fill="url(#d27)" stroke="url(#d27)" stroke-width="0.6"/>
<polygon points="263.15,271.77 290.92,271.77 290.92,298.4" fill="url(#d28)" stroke="url(#d28)" stroke-width="0.6"/>
<polygon points="263.15,271.77 263.15,298.4 290.92,298.4" fill="url(#d29)" stroke="url(#d29)" stroke-width="0.6"/>
<polygon points="290.92,271.77 318.7,271.77 318.7,298.4" fill="url(#d30)" stroke="url(#d30)" stroke-width="0.6"/>
<polygon points="290.92,271.77 290.92,298.4 318.7,298.4" fill="url(#d31)" stroke="url(#d31)" stroke-width="0.6"/>
</g>
<rect x="207.6" y="191.9" width="111.1" height="106.5" fill="none" stroke="#000" stroke-opacity="0.55" stroke-width="0.5"/>
<path d="M207.6 191.9V298.4H318.7" fill="none" stroke="#000" stroke-opacity="0.85" stroke-width="0.55"/>
<path d="M207.6 298.4v1.6M207.6 298.4h-1.6M214.54 298.4v0.9M207.6 291.74h-0.9M221.49 298.4v1.6M207.6 285.09h-1.6M228.43 298.4v0.9M207.6 278.43h-0.9M235.38 298.4v1.6M207.6 271.77h-1.6M242.32 298.4v0.9M207.6 265.12h-0.9M249.26 298.4v1.6M207.6 258.46h-1.6M256.21 298.4v0.9M207.6 251.81h-0.9M263.15 298.4v1.6M207.6 245.15h-1.6M270.09 298.4v0.9M207.6 238.49h-0.9M277.04 298.4v1.6M207.6 231.84h-1.6M283.98 298.4v0.9M207.6 225.18h-0.9M290.92 298.4v1.6M207.6 218.53h-1.6M297.87 298.4v0.9M207.6 211.87h-0.9M304.81 298.4v1.6M207.6 205.21h-1.6M311.76 298.4v0.9M207.6 198.56h-0.9M318.7 298.4v1.6M207.6 191.9h-1.6" stroke="#000" stroke-width="0.5" fill="none"/>
<g class="t" style="font-size:4.94px"><text x="207.6" y="306.22" text-anchor="middle">4.0</text><text x="204.4" y="300.1" text-anchor="end">0.8</text><text x="221.49" y="306.22" text-anchor="middle">4.2</text><text x="204.4" y="286.79" text-anchor="end">1.0</text><text x="235.38" y="306.22" text-anchor="middle">4.4</text><text x="204.4" y="273.47" text-anchor="end">1.2</text><text x="249.26" y="306.22" text-anchor="middle">4.6</text><text x="204.4" y="260.16" text-anchor="end">1.4</text><text x="263.15" y="306.22" text-anchor="middle">4.8</text><text x="204.4" y="246.85" text-anchor="end">1.6</text><text x="277.04" y="306.22" text-anchor="middle">5.0</text><text x="204.4" y="233.54" text-anchor="end">1.8</text><text x="290.92" y="306.22" text-anchor="middle">5.2</text><text x="204.4" y="220.22" text-anchor="end">2.0</text><text x="304.81" y="306.22" text-anchor="middle">5.4</text><text x="204.4" y="206.91" text-anchor="end">2.2</text><text x="318.7" y="306.22" text-anchor="middle">5.6</text><text x="204.4" y="193.6" text-anchor="end">2.4</text></g>
<text class="l" font-size="6.02" x="246.1" y="315.87" textLength="34.11" lengthAdjust="spacingAndGlyphs">X position /m</text>
<text class="l" font-size="6.02" transform="translate(195.55 245.15) rotate(-90)" x="-17.05" textLength="34.11" lengthAdjust="spacingAndGlyphs">Z position /m</text>
<rect x="333.3" y="191.9" width="9.1" height="106.5" fill="url(#cb)" stroke="#000" stroke-opacity="0.6" stroke-width="0.4"/>
<path d="M342.4 298.4h1.3M342.4 287.75h1.3M342.4 277.1h1.3M342.4 266.45h1.3M342.4 255.8h1.3M342.4 245.15h1.3M342.4 234.5h1.3M342.4 223.85h1.3M342.4 213.2h1.3M342.4 202.55h1.3M342.4 191.9h1.3" stroke="#000" stroke-width="0.5" fill="none"/>
<g class="u" style="font-size:4.64px"><text x="346.8" y="300.4">0.000</text><text x="346.8" y="289.75">10.00</text><text x="346.8" y="279.1">20.00</text><text x="346.8" y="268.45">30.00</text><text x="346.8" y="257.8">40.00</text><text x="346.8" y="247.15">50.00</text><text x="346.8" y="236.5">60.00</text><text x="346.8" y="225.85">70.00</text><text x="346.8" y="215.2">80.00</text><text x="346.8" y="204.55">90.00</text><text x="346.8" y="193.9">100.0</text></g>
<text class="l" font-size="6.02" x="328.2" y="187" textLength="33.8" lengthAdjust="spacingAndGlyphs">Coverage /%</text>
<text class="c" x="249.5" y="342.8" textLength="50" lengthAdjust="spacingAndGlyphs">Tree5 P2</text>
<g clip-path="url(#ke)" shape-rendering="crispEdges">
<rect x="392.3" y="191.7" width="112.2" height="105.8" fill="#0010ff"/>
<polygon points="392.3,191.7 448.4,191.7 448.4,218.15" fill="url(#e0)" stroke="url(#e0)" stroke-width="0.6"/>
<polygon points="392.3,191.7 392.3,218.15 448.4,218.15" fill="url(#e1)" stroke="url(#e1)" stroke-width="0.6"/>
<polygon points="448.4,191.7 504.5,191.7 504.5,218.15" fill="#0008ff" stroke="#0008ff" stroke-width="0.6"/>
<polygon points="448.4,191.7 448.4,218.15 504.5,218.15" fill="url(#e3)" stroke="url(#e3)" stroke-width="0.6"/>
<polygon points="392.3,218.15 448.4,218.15 448.4,244.6" fill="url(#e4)" stroke="url(#e4)" stroke-width="0.6"/>
<polygon points="392.3,218.15 392.3,244.6 448.4,244.6" fill="url(#e5)" stroke="url(#e5)" stroke-width="0.6"/>
<polygon points="448.4,218.15 504.5,218.15 504.5,244.6" fill="url(#e6)" stroke="url(#e6)" stroke-width="0.6"/>
<polygon points="448.4,218.15 448.4,244.6 504.5,244.6" fill="url(#e7)" stroke="url(#e7)" stroke-width="0.6"/>
<polygon points="392.3,244.6 448.4,244.6 448.4,271.05" fill="url(#e8)" stroke="url(#e8)" stroke-width="0.6"/>
<polygon points="392.3,244.6 392.3,271.05 448.4,271.05" fill="url(#e9)" stroke="url(#e9)" stroke-width="0.6"/>
<polygon points="448.4,244.6 504.5,244.6 504.5,271.05" fill="url(#e10)" stroke="url(#e10)" stroke-width="0.6"/>
<polygon points="448.4,244.6 448.4,271.05 504.5,271.05" fill="url(#e11)" stroke="url(#e11)" stroke-width="0.6"/>
<polygon points="392.3,271.05 448.4,271.05 448.4,297.5" fill="url(#e12)" stroke="url(#e12)" stroke-width="0.6"/>
<polygon points="392.3,271.05 392.3,297.5 448.4,297.5" fill="url(#e13)" stroke="url(#e13)" stroke-width="0.6"/>
<polygon points="448.4,271.05 504.5,271.05 504.5,297.5" fill="url(#e14)" stroke="url(#e14)" stroke-width="0.6"/>
<polygon points="448.4,271.05 448.4,297.5 504.5,297.5" fill="url(#e15)" stroke="url(#e15)" stroke-width="0.6"/>
</g>
<rect x="392.3" y="191.7" width="112.2" height="105.8" fill="none" stroke="#000" stroke-opacity="0.55" stroke-width="0.5"/>
<path d="M392.3 191.7V297.5H504.5" fill="none" stroke="#000" stroke-opacity="0.85" stroke-width="0.55"/>
<path d="M392.3 297.5v1.6M392.3 297.5h-1.6M399.31 297.5v0.9M392.3 290.89h-0.9M406.32 297.5v1.6M392.3 284.27h-1.6M413.34 297.5v0.9M392.3 277.66h-0.9M420.35 297.5v1.6M392.3 271.05h-1.6M427.36 297.5v0.9M392.3 264.44h-0.9M434.38 297.5v1.6M392.3 257.82h-1.6M441.39 297.5v0.9M392.3 251.21h-0.9M448.4 297.5v1.6M392.3 244.6h-1.6M455.41 297.5v0.9M392.3 237.99h-0.9M462.43 297.5v1.6M392.3 231.38h-1.6M469.44 297.5v0.9M392.3 224.76h-0.9M476.45 297.5v1.6M392.3 218.15h-1.6M483.46 297.5v0.9M392.3 211.54h-0.9M490.48 297.5v1.6M392.3 204.92h-1.6M497.49 297.5v0.9M392.3 198.31h-0.9M504.5 297.5v1.6M392.3 191.7h-1.6" stroke="#000" stroke-width="0.5" fill="none"/>
<g class="t" style="font-size:4.99px"><text x="392.3" y="305.38" text-anchor="middle">4.0</text><text x="389.1" y="299.2" text-anchor="end">0.8</text><text x="406.32" y="305.38" text-anchor="middle">4.2</text><text x="389.1" y="285.97" text-anchor="end">1.0</text><text x="420.35" y="305.38" text-anchor="middle">4.4</text><text x="389.1" y="272.75" text-anchor="end">1.2</text><text x="434.38" y="305.38" text-anchor="middle">4.6</text><text x="389.1" y="259.52" text-anchor="end">1.4</text><text x="448.4" y="305.38" text-anchor="middle">4.8</text><text x="389.1" y="246.3" text-anchor="end">1.6</text><text x="462.43" y="305.38" text-anchor="middle">5.0</text><text x="389.1" y="233.07" text-anchor="end">1.8</text><text x="476.45" y="305.38" text-anchor="middle">5.2</text><text x="389.1" y="219.85" text-anchor="end">2.0</text><text x="490.48" y="305.38" text-anchor="middle">5.4</text><text x="389.1" y="206.62" text-anchor="end">2.2</text><text x="504.5" y="305.38" text-anchor="middle">5.6</text><text x="389.1" y="193.4" text-anchor="end">2.4</text></g>
<text class="l" font-size="6.08" x="431.18" y="315.07" textLength="34.45" lengthAdjust="spacingAndGlyphs">X position /m</text>
<text class="l" font-size="6.08" transform="translate(380.13 244.6) rotate(-90)" x="-17.22" textLength="34.45" lengthAdjust="spacingAndGlyphs">Z position /m</text>
<rect x="517.3" y="191.7" width="9.6" height="105.8" fill="url(#cb)" stroke="#000" stroke-opacity="0.6" stroke-width="0.4"/>
<path d="M526.9 297.5h1.3M526.9 286.92h1.3M526.9 276.34h1.3M526.9 265.76h1.3M526.9 255.18h1.3M526.9 244.6h1.3M526.9 234.02h1.3M526.9 223.44h1.3M526.9 212.86h1.3M526.9 202.28h1.3M526.9 191.7h1.3" stroke="#000" stroke-width="0.5" fill="none"/>
<g class="u" style="font-size:4.69px"><text x="531.3" y="299.5">0.000</text><text x="531.3" y="288.92">10.00</text><text x="531.3" y="278.34">20.00</text><text x="531.3" y="267.76">30.00</text><text x="531.3" y="257.18">40.00</text><text x="531.3" y="246.6">50.00</text><text x="531.3" y="236.02">60.00</text><text x="531.3" y="225.44">70.00</text><text x="531.3" y="214.86">80.00</text><text x="531.3" y="204.28">90.00</text><text x="531.3" y="193.7">100.0</text></g>
<text class="l" font-size="6.08" x="514.2" y="186.5" textLength="33.3" lengthAdjust="spacingAndGlyphs">Coverage /%</text>
<text class="c" x="433.8" y="342.8" textLength="50" lengthAdjust="spacingAndGlyphs">Tree5 P3</text>
<g clip-path="url(#kf)" shape-rendering="crispEdges">
<rect x="66.9" y="366.4" width="112.6" height="107.3" fill="#00adff"/>
<polygon points="66.9,366.4 95.05,366.4 95.05,393.22" fill="url(#f0)" stroke="url(#f0)" stroke-width="0.6"/>
<polygon points="66.9,366.4 66.9,393.22 95.05,393.22" fill="url(#f1)" stroke="url(#f1)" stroke-width="0.6"/>
<polygon points="95.05,366.4 123.2,366.4 123.2,393.22" fill="url(#f2)" stroke="url(#f2)" stroke-width="0.6"/>
<polygon points="95.05,366.4 95.05,393.22 123.2,393.22" fill="url(#f3)" stroke="url(#f3)" stroke-width="0.6"/>
<polygon points="123.2,366.4 151.35,366.4 151.35,393.22" fill="url(#f4)" stroke="url(#f4)" stroke-width="0.6"/>
<polygon points="123.2,366.4 123.2,393.22 151.35,393.22" fill="url(#f5)" stroke="url(#f5)" stroke-width="0.6"/>
<polygon points="151.35,366.4 179.5,366.4 179.5,393.22" fill="url(#f6)" stroke="url(#f6)" stroke-width="0.6"/>
<polygon points="151.35,366.4 151.35,393.22 179.5,393.22" fill="url(#f7)" stroke="url(#f7)" stroke-width="0.6"/>
<polygon points="66.9,393.22 95.05,393.22 95.05,420.05" fill="url(#f8)" stroke="url(#f8)" stroke-width="0.6"/>
<polygon points="66.9,393.22 66.9,420.05 95.05,420.05" fill="url(#f9)" stroke="url(#f9)" stroke-width="0.6"/>
<polygon points="95.05,393.22 123.2,393.22 123.2,420.05" fill="url(#f10)" stroke="url(#f10)" stroke-width="0.6"/>
<polygon points="95.05,393.22 95.05,420.05 123.2,420.05" fill="url(#f11)" stroke="url(#f11)" stroke-width="0.6"/>
<polygon points="123.2,393.22 151.35,393.22 151.35,420.05" fill="url(#f12)" stroke="url(#f12)" stroke-width="0.6"/>
<polygon points="123.2,393.22 123.2,420.05 151.35,420.05" fill="url(#f13)" stroke="url(#f13)" stroke-width="0.6"/>
<polygon points="151.35,393.22 179.5,393.22 179.5,420.05" fill="url(#f14)" stroke="url(#f14)" stroke-width="0.6"/>
<polygon points="151.35,393.22 151.35,420.05 179.5,420.05" fill="url(#f15)" stroke="url(#f15)" stroke-width="0.6"/>
<polygon points="66.9,420.05 95.05,420.05 95.05,446.88" fill="url(#f16)" stroke="url(#f16)" stroke-width="0.6"/>
<polygon points="66.9,420.05 66.9,446.88 95.05,446.88" fill="url(#f17)" stroke="url(#f17)" stroke-width="0.6"/>
<polygon points="95.05,420.05 123.2,420.05 123.2,446.88" fill="url(#f18)" stroke="url(#f18)" stroke-width="0.6"/>
<polygon points="95.05,420.05 95.05,446.88 123.2,446.88" fill="url(#f19)" stroke="url(#f19)" stroke-width="0.6"/>
<polygon points="123.2,420.05 151.35,420.05 151.35,446.88" fill="url(#f20)" stroke="url(#f20)" stroke-width="0.6"/>
<polygon points="123.2,420.05 123.2,446.88 151.35,446.88" fill="url(#f21)" stroke="url(#f21)" stroke-width="0.6"/>
<polygon points="151.35,420.05 179.5,420.05 179.5,446.88" fill="url(#f22)" stroke="url(#f22)" stroke-width="0.6"/>
<polygon points="151.35,420.05 151.35,446.88 179.5,446.88" fill="url(#f23)" stroke="url(#f23)" stroke-width="0.6"/>
<polygon points="66.9,446.88 95.05,446.88 95.05,473.7" fill="url(#f24)" stroke="url(#f24)" stroke-width="0.6"/>
<polygon points="66.9,446.88 66.9,473.7 95.05,473.7" fill="url(#f25)" stroke="url(#f25)" stroke-width="0.6"/>
<polygon points="95.05,446.88 123.2,446.88 123.2,473.7" fill="url(#f26)" stroke="url(#f26)" stroke-width="0.6"/>
<polygon points="95.05,446.88 95.05,473.7 123.2,473.7" fill="url(#f27)" stroke="url(#f27)" stroke-width="0.6"/>
<polygon points="123.2,446.88 151.35,446.88 151.35,473.7" fill="url(#f28)" stroke="url(#f28)" stroke-width="0.6"/>
<polygon points="123.2,446.88 123.2,473.7 151.35,473.7" fill="url(#f29)" stroke="url(#f29)" stroke-width="0.6"/>
<polygon points="151.35,446.88 179.5,446.88 179.5,473.7" fill="url(#f30)" stroke="url(#f30)" stroke-width="0.6"/>
<polygon points="151.35,446.88 151.35,473.7 179.5,473.7" fill="url(#f31)" stroke="url(#f31)" stroke-width="0.6"/>
</g>
<rect x="66.9" y="366.4" width="112.6" height="107.3" fill="none" stroke="#000" stroke-opacity="0.55" stroke-width="0.5"/>
<path d="M66.9 366.4V473.7H179.5" fill="none" stroke="#000" stroke-opacity="0.85" stroke-width="0.55"/>
<path d="M66.9 473.7v1.6M66.9 473.7h-1.6M73.94 473.7v0.9M66.9 466.99h-0.9M80.98 473.7v1.6M66.9 460.29h-1.6M88.01 473.7v0.9M66.9 453.58h-0.9M95.05 473.7v1.6M66.9 446.88h-1.6M102.09 473.7v0.9M66.9 440.17h-0.9M109.12 473.7v1.6M66.9 433.46h-1.6M116.16 473.7v0.9M66.9 426.76h-0.9M123.2 473.7v1.6M66.9 420.05h-1.6M130.24 473.7v0.9M66.9 413.34h-0.9M137.28 473.7v1.6M66.9 406.64h-1.6M144.31 473.7v0.9M66.9 399.93h-0.9M151.35 473.7v1.6M66.9 393.22h-1.6M158.39 473.7v0.9M66.9 386.52h-0.9M165.43 473.7v1.6M66.9 379.81h-1.6M172.46 473.7v0.9M66.9 373.11h-0.9M179.5 473.7v1.6M66.9 366.4h-1.6" stroke="#000" stroke-width="0.5" fill="none"/>
<g class="t" style="font-size:5px"><text x="66.9" y="481.61" text-anchor="middle">4.0</text><text x="63.7" y="475.4" text-anchor="end">0.8</text><text x="80.98" y="481.61" text-anchor="middle">4.2</text><text x="63.7" y="461.99" text-anchor="end">1.0</text><text x="95.05" y="481.61" text-anchor="middle">4.4</text><text x="63.7" y="448.57" text-anchor="end">1.2</text><text x="109.12" y="481.61" text-anchor="middle">4.6</text><text x="63.7" y="435.16" text-anchor="end">1.4</text><text x="123.2" y="481.61" text-anchor="middle">4.8</text><text x="63.7" y="421.75" text-anchor="end">1.6</text><text x="137.28" y="481.61" text-anchor="middle">5.0</text><text x="63.7" y="408.34" text-anchor="end">1.8</text><text x="151.35" y="481.61" text-anchor="middle">5.2</text><text x="63.7" y="394.92" text-anchor="end">2.0</text><text x="165.43" y="481.61" text-anchor="middle">5.4</text><text x="63.7" y="381.51" text-anchor="end">2.2</text><text x="179.5" y="481.61" text-anchor="middle">5.6</text><text x="63.7" y="368.1" text-anchor="end">2.4</text></g>
<text class="l" font-size="6.11" x="105.92" y="491.31" textLength="34.57" lengthAdjust="spacingAndGlyphs">X position /m</text>
<text class="l" font-size="6.11" transform="translate(54.69 420.05) rotate(-90)" x="-17.28" textLength="34.57" lengthAdjust="spacingAndGlyphs">Z position /m</text>
<rect x="192.2" y="366.4" width="9.5" height="107.3" fill="url(#cb)" stroke="#000" stroke-opacity="0.6" stroke-width="0.4"/>
<path d="M201.7 473.7h1.3M201.7 462.97h1.3M201.7 452.24h1.3M201.7 441.51h1.3M201.7 430.78h1.3M201.7 420.05h1.3M201.7 409.32h1.3M201.7 398.59h1.3M201.7 387.86h1.3M201.7 377.13h1.3M201.7 366.4h1.3" stroke="#000" stroke-width="0.5" fill="none"/>
<g class="u" style="font-size:4.7px"><text x="206.1" y="475.7">0.000</text><text x="206.1" y="464.97">10.00</text><text x="206.1" y="454.24">20.00</text><text x="206.1" y="443.51">30.00</text><text x="206.1" y="432.78">40.00</text><text x="206.1" y="422.05">50.00</text><text x="206.1" y="411.32">60.00</text><text x="206.1" y="400.59">70.00</text><text x="206.1" y="389.86">80.00</text><text x="206.1" y="379.13">90.00</text><text x="206.1" y="368.4">100.0</text></g>
<text class="l" font-size="6.11" x="186.95" y="360.9" textLength="33.3" lengthAdjust="spacingAndGlyphs">Coverage /%</text>
<text class="c" x="110.45" y="516.7" textLength="50.5" lengthAdjust="spacingAndGlyphs">Tree5 P4</text>
<g clip-path="url(#kg)" shape-rendering="crispEdges">
<rect x="344.5" y="365.1" width="112.8" height="108.1" fill="#0008ff"/>
<polygon points="344.5,365.1 400.9,365.1 400.9,392.12" fill="#0006ff" stroke="#0006ff" stroke-width="0.6"/>
<polygon points="344.5,365.1 344.5,392.12 400.9,392.12" fill="#0006ff" stroke="#0006ff" stroke-width="0.6"/>
<polygon points="400.9,365.1 457.3,365.1 457.3,392.12" fill="#0006ff" stroke="#0006ff" stroke-width="0.6"/>
<polygon points="400.9,365.1 400.9,392.12 457.3,392.12" fill="#0006ff" stroke="#0006ff" stroke-width="0.6"/>
<polygon points="344.5,392.12 400.9,392.12 400.9,419.15" fill="url(#g4)" stroke="url(#g4)" stroke-width="0.6"/>
<polygon points="344.5,392.12 344.5,419.15 400.9,419.15" fill="url(#g5)" stroke="url(#g5)" stroke-width="0.6"/>
<polygon points="400.9,392.12 457.3,392.12 457.3,419.15" fill="url(#g6)" stroke="url(#g6)" stroke-width="0.6"/>
<polygon points="400.9,392.12 400.9,419.15 457.3,419.15" fill="url(#g7)" stroke="url(#g7)" stroke-width="0.6"/>
<polygon points="344.5,419.15 400.9,419.15 400.9,446.18" fill="url(#g8)" stroke="url(#g8)" stroke-width="0.6"/>
<polygon points="344.5,419.15 344.5,446.18 400.9,446.18" fill="url(#g9)" stroke="url(#g9)" stroke-width="0.6"/>
<polygon points="400.9,419.15 457.3,419.15 457.3,446.18" fill="url(#g10)" stroke="url(#g10)" stroke-width="0.6"/>
<polygon points="400.9,419.15 400.9,446.18 457.3,446.18" fill="url(#g11)" stroke="url(#g11)" stroke-width="0.6"/>
<polygon points="344.5,446.18 400.9,446.18 400.9,473.2" fill="url(#g12)" stroke="url(#g12)" stroke-width="0.6"/>
<polygon points="344.5,446.18 344.5,473.2 400.9,473.2" fill="url(#g13)" stroke="url(#g13)" stroke-width="0.6"/>
<polygon points="400.9,446.18 457.3,446.18 457.3,473.2" fill="url(#g14)" stroke="url(#g14)" stroke-width="0.6"/>
<polygon points="400.9,446.18 400.9,473.2 457.3,473.2" fill="url(#g15)" stroke="url(#g15)" stroke-width="0.6"/>
</g>
<rect x="344.5" y="365.1" width="112.8" height="108.1" fill="none" stroke="#000" stroke-opacity="0.55" stroke-width="0.5"/>
<path d="M344.5 365.1V473.2H457.3" fill="none" stroke="#000" stroke-opacity="0.85" stroke-width="0.55"/>
<path d="M344.5 473.2v1.6M344.5 473.2h-1.6M351.55 473.2v0.9M344.5 466.44h-0.9M358.6 473.2v1.6M344.5 459.69h-1.6M365.65 473.2v0.9M344.5 452.93h-0.9M372.7 473.2v1.6M344.5 446.18h-1.6M379.75 473.2v0.9M344.5 439.42h-0.9M386.8 473.2v1.6M344.5 432.66h-1.6M393.85 473.2v0.9M344.5 425.91h-0.9M400.9 473.2v1.6M344.5 419.15h-1.6M407.95 473.2v0.9M344.5 412.39h-0.9M415 473.2v1.6M344.5 405.64h-1.6M422.05 473.2v0.9M344.5 398.88h-0.9M429.1 473.2v1.6M344.5 392.12h-1.6M436.15 473.2v0.9M344.5 385.37h-0.9M443.2 473.2v1.6M344.5 378.61h-1.6M450.25 473.2v0.9M344.5 371.86h-0.9M457.3 473.2v1.6M344.5 365.1h-1.6" stroke="#000" stroke-width="0.5" fill="none"/>
<g class="t" style="font-size:5.01px"><text x="344.5" y="481.12" text-anchor="middle">4.0</text><text x="341.3" y="474.9" text-anchor="end">0.8</text><text x="358.6" y="481.12" text-anchor="middle">4.2</text><text x="341.3" y="461.39" text-anchor="end">1.0</text><text x="372.7" y="481.12" text-anchor="middle">4.4</text><text x="341.3" y="447.88" text-anchor="end">1.2</text><text x="386.8" y="481.12" text-anchor="middle">4.6</text><text x="341.3" y="434.36" text-anchor="end">1.4</text><text x="400.9" y="481.12" text-anchor="middle">4.8</text><text x="341.3" y="420.85" text-anchor="end">1.6</text><text x="415" y="481.12" text-anchor="middle">5.0</text><text x="341.3" y="407.34" text-anchor="end">1.8</text><text x="429.1" y="481.12" text-anchor="middle">5.2</text><text x="341.3" y="393.82" text-anchor="end">2.0</text><text x="443.2" y="481.12" text-anchor="middle">5.4</text><text x="341.3" y="380.31" text-anchor="end">2.2</text><text x="457.3" y="481.12" text-anchor="middle">5.6</text><text x="341.3" y="366.8" text-anchor="end">2.4</text></g>
<text class="l" font-size="6.12" x="383.59" y="490.83" textLength="34.63" lengthAdjust="spacingAndGlyphs">X position /m</text>
<text class="l" font-size="6.12" transform="translate(332.27 419.15) rotate(-90)" x="-17.31" textLength="34.63" lengthAdjust="spacingAndGlyphs">Z position /m</text>
<rect x="469.6" y="365.1" width="9.3" height="108.1" fill="url(#cb)" stroke="#000" stroke-opacity="0.6" stroke-width="0.4"/>
<path d="M478.9 473.2h1.3M478.9 462.39h1.3M478.9 451.58h1.3M478.9 440.77h1.3M478.9 429.96h1.3M478.9 419.15h1.3M478.9 408.34h1.3M478.9 397.53h1.3M478.9 386.72h1.3M478.9 375.91h1.3M478.9 365.1h1.3" stroke="#000" stroke-width="0.5" fill="none"/>
<g class="u" style="font-size:4.71px"><text x="483.3" y="475.2">0.000</text><text x="483.3" y="464.39">10.00</text><text x="483.3" y="453.58">20.00</text><text x="483.3" y="442.77">30.00</text><text x="483.3" y="431.96">40.00</text><text x="483.3" y="421.15">50.00</text><text x="483.3" y="410.34">60.00</text><text x="483.3" y="399.53">70.00</text><text x="483.3" y="388.72">80.00</text><text x="483.3" y="377.91">90.00</text><text x="483.3" y="367.1">100.0</text></g>
<text class="l" font-size="6.12" x="465.3" y="359.8" textLength="33.6" lengthAdjust="spacingAndGlyphs">Coverage /%</text>
<text class="c" x="387" y="516.7" textLength="50" lengthAdjust="spacingAndGlyphs">Tree5 P5</text>
</svg>
</body></html>
